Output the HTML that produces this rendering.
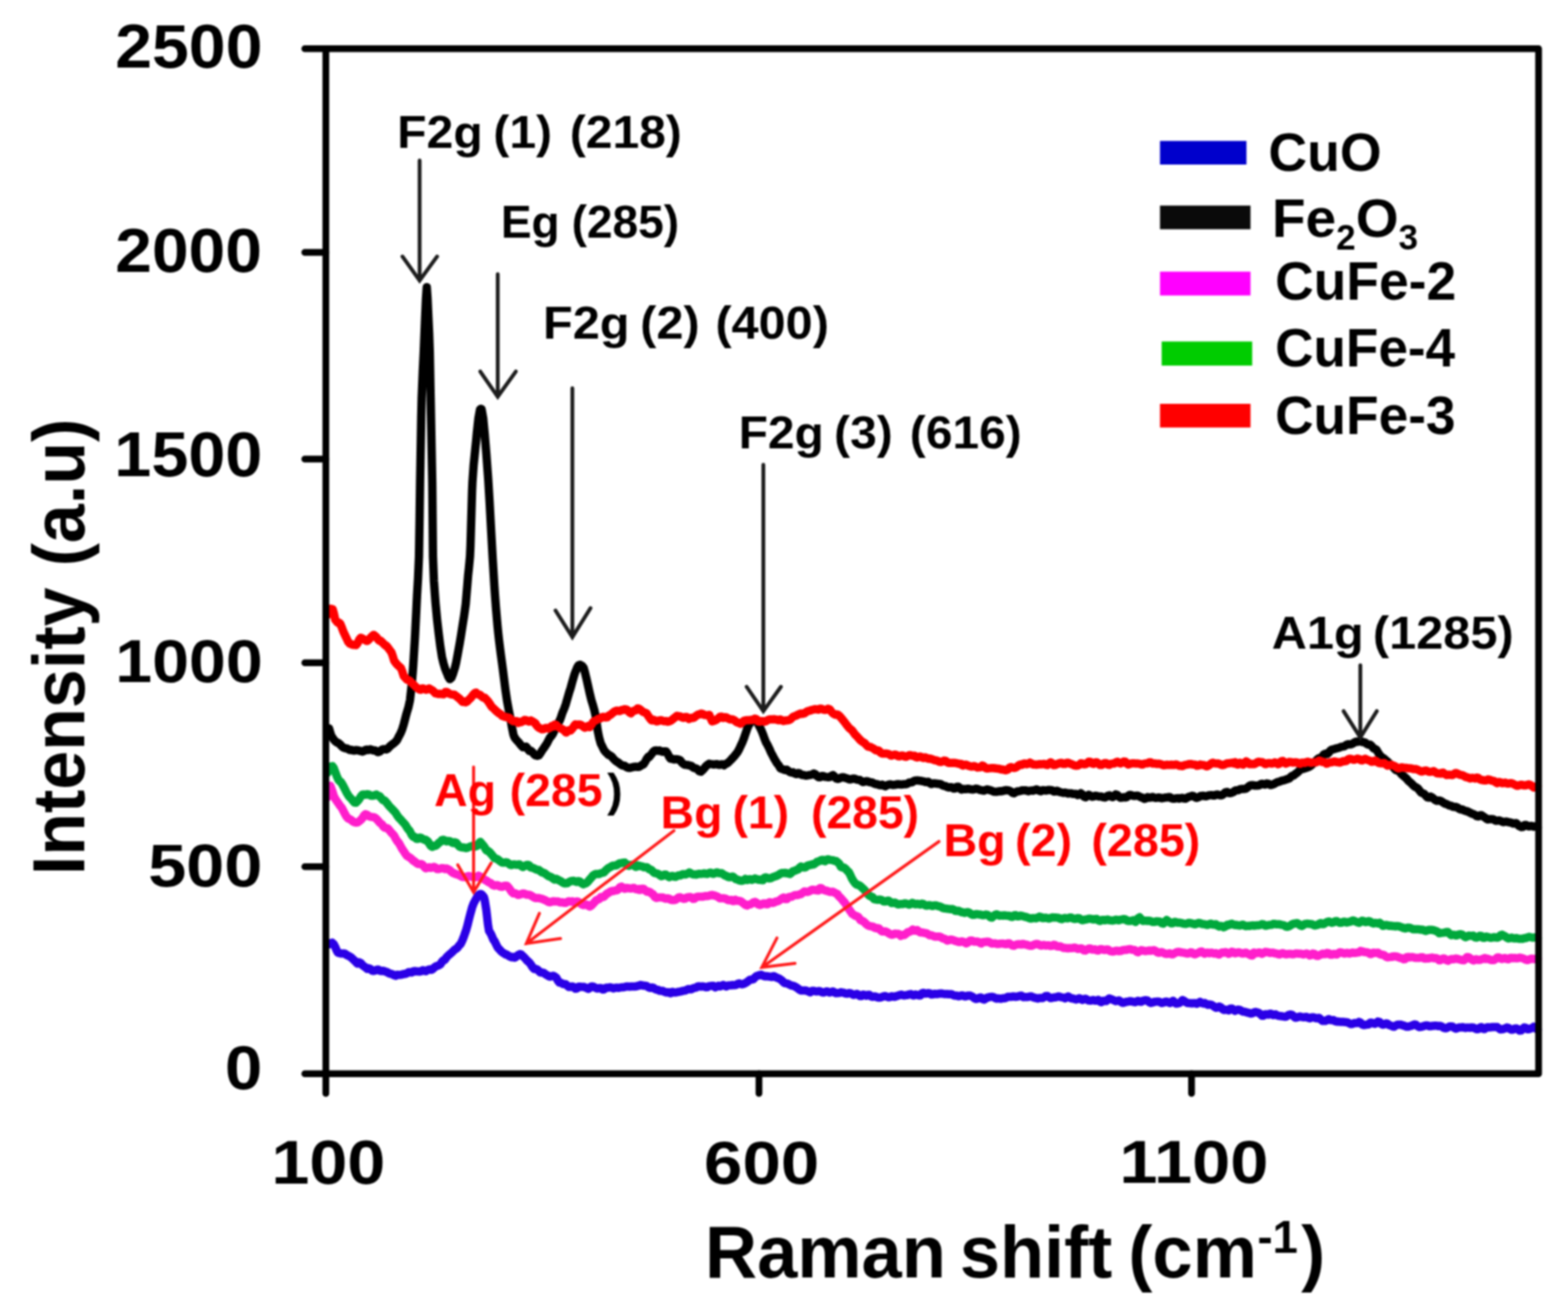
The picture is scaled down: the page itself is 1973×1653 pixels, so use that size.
<!DOCTYPE html>
<html><head><meta charset="utf-8"><title>Raman spectra</title>
<style>
html,body{margin:0;padding:0;background:#fff;}
body{width:1973px;height:1653px;overflow:hidden;}
svg{display:block;}
#wrap{filter:blur(1px);}
text{font-family:'Liberation Sans',sans-serif;font-weight:bold;}
</style></head>
<body>
<div id="wrap">
<svg width="1973" height="1653" viewBox="0 0 1973 1653">
<rect width="1973" height="1653" fill="#fff"/>
<path d="M412.0 1188.5 L414.0 1187.9 L416.0 1186.7 L418.0 1185.9 L418.8 1186.8 L420.0 1187.8 L422.0 1191.7 L424.0 1196.6 L425.3 1198.5 L426.0 1198.7 L428.0 1199.3 L430.0 1199.6 L432.0 1199.4 L434.0 1199.7 L435.0 1200.4 L436.0 1201.3 L438.0 1202.3 L440.0 1203.2 L442.0 1204.6 L444.0 1206.5 L446.0 1208.4 L448.0 1210.3 L449.6 1212.2 L450.0 1211.5 L452.0 1210.5 L454.0 1211.6 L456.0 1214.1 L458.0 1215.7 L460.0 1217.0 L461.8 1218.6 L462.0 1218.9 L464.0 1218.1 L466.0 1218.9 L468.0 1221.0 L470.0 1221.4 L472.0 1220.9 L474.0 1220.0 L476.0 1219.7 L478.0 1221.1 L480.0 1221.6 L482.0 1221.2 L484.0 1221.8 L486.0 1222.6 L486.1 1222.5 L488.0 1223.5 L490.0 1224.6 L492.0 1225.1 L494.0 1225.7 L496.0 1226.9 L498.0 1227.6 L498.3 1226.8 L500.0 1226.2 L502.0 1226.4 L504.0 1226.3 L506.0 1225.8 L508.0 1225.3 L510.0 1225.3 L512.0 1224.4 L514.0 1223.1 L516.0 1223.0 L518.0 1223.4 L518.5 1223.2 L520.0 1222.0 L522.0 1221.6 L524.0 1222.0 L526.0 1222.0 L528.0 1222.3 L530.0 1221.7 L532.0 1220.5 L534.0 1221.1 L536.0 1221.7 L538.0 1220.3 L540.0 1219.5 L542.0 1219.8 L542.9 1220.0 L544.0 1219.5 L546.0 1217.6 L548.0 1215.9 L550.0 1215.1 L552.0 1214.3 L554.0 1213.2 L555.0 1211.9 L556.0 1209.9 L558.0 1207.9 L559.1 1207.8 L560.0 1207.0 L562.0 1204.1 L564.0 1202.0 L566.0 1200.4 L568.0 1198.6 L568.1 1198.6 L570.0 1196.7 L572.0 1194.8 L574.0 1193.6 L576.0 1191.8 L578.0 1189.0 L579.0 1188.2 L580.0 1186.9 L582.0 1182.5 L584.0 1177.3 L586.0 1171.6 L586.3 1170.9 L588.0 1164.9 L590.0 1156.8 L592.0 1149.0 L593.5 1143.7 L594.0 1141.6 L596.0 1136.4 L598.0 1132.6 L600.0 1129.2 L602.0 1126.2 L604.0 1124.7 L605.3 1124.7 L606.0 1125.2 L608.0 1127.3 L609.0 1128.9 L610.0 1132.7 L611.7 1143.4 L612.0 1145.4 L614.0 1163.0 L615.3 1171.0 L616.0 1172.0 L618.0 1175.4 L620.0 1180.1 L620.7 1182.0 L622.0 1183.5 L624.0 1187.4 L626.0 1191.6 L627.1 1193.0 L628.0 1193.8 L630.0 1196.1 L632.0 1198.0 L634.0 1199.2 L636.0 1200.5 L636.2 1200.3 L638.0 1201.1 L640.0 1202.4 L642.0 1203.6 L644.0 1204.3 L645.2 1203.8 L646.0 1204.4 L648.0 1204.7 L650.0 1203.1 L652.0 1201.4 L654.0 1200.8 L654.3 1200.4 L656.0 1200.9 L658.0 1202.9 L660.0 1204.8 L662.0 1207.0 L663.4 1208.8 L664.0 1209.0 L666.0 1210.8 L668.0 1213.4 L670.0 1216.6 L672.0 1219.0 L672.4 1218.6 L674.0 1218.8 L676.0 1219.6 L678.0 1221.5 L680.0 1223.3 L682.0 1223.5 L684.0 1223.9 L686.0 1225.3 L688.0 1226.6 L690.0 1227.8 L692.0 1228.6 L694.0 1228.0 L696.0 1227.5 L698.0 1228.5 L699.7 1229.7 L700.0 1230.0 L702.0 1233.6 L704.0 1236.1 L706.0 1236.4 L708.0 1237.7 L710.0 1238.0 L712.0 1238.3 L714.0 1240.2 L716.0 1241.6 L718.0 1241.5 L720.0 1240.9 L722.0 1241.8 L724.0 1243.8 L726.0 1243.3 L728.0 1241.2 L730.0 1241.3 L732.0 1241.6 L734.0 1241.4 L736.0 1242.0 L738.0 1242.9 L740.0 1244.0 L742.0 1243.0 L744.0 1240.9 L746.0 1241.0 L748.0 1241.9 L750.0 1243.1 L752.0 1243.6 L754.0 1242.9 L756.0 1242.9 L758.0 1244.7 L760.0 1244.8 L762.0 1242.9 L764.0 1242.4 L766.0 1242.4 L768.0 1242.0 L770.0 1242.5 L772.0 1243.4 L774.0 1242.6 L776.0 1242.4 L778.0 1242.8 L780.0 1242.4 L782.0 1242.1 L784.0 1242.0 L786.0 1241.6 L788.0 1241.1 L790.0 1241.1 L792.0 1241.2 L794.0 1241.0 L796.0 1240.9 L798.0 1240.9 L800.0 1240.9 L802.0 1240.4 L804.0 1239.8 L805.4 1239.5 L806.0 1239.1 L808.0 1239.4 L810.0 1240.1 L812.0 1240.0 L814.0 1240.6 L816.0 1242.1 L818.0 1242.8 L820.0 1242.3 L822.0 1242.4 L824.0 1244.2 L826.0 1245.0 L828.0 1245.2 L830.0 1246.3 L832.0 1246.5 L834.0 1246.6 L836.0 1247.7 L838.0 1248.5 L840.0 1248.2 L842.0 1248.5 L843.5 1249.6 L844.0 1248.6 L846.0 1247.7 L848.0 1248.5 L850.0 1248.6 L852.0 1248.2 L854.0 1247.7 L856.0 1247.4 L858.0 1246.9 L860.0 1246.4 L862.0 1246.1 L864.0 1245.2 L866.0 1244.3 L868.0 1244.5 L870.0 1244.4 L872.0 1243.3 L874.0 1242.7 L876.0 1242.3 L878.0 1241.0 L880.0 1240.8 L882.0 1241.2 L884.0 1240.8 L886.0 1241.2 L888.0 1241.9 L890.0 1241.8 L892.0 1240.7 L894.0 1240.4 L896.0 1240.1 L898.0 1240.3 L900.0 1242.1 L902.0 1241.1 L904.0 1240.1 L906.0 1240.9 L908.0 1240.0 L910.0 1239.1 L912.0 1240.3 L914.0 1240.9 L916.0 1239.8 L918.0 1239.6 L920.0 1239.6 L922.0 1239.1 L924.0 1239.4 L926.0 1239.1 L928.0 1237.8 L930.0 1237.1 L930.7 1237.4 L932.0 1237.9 L934.0 1238.2 L936.0 1237.7 L938.0 1236.6 L940.0 1235.4 L942.0 1233.8 L944.0 1232.4 L946.0 1232.3 L948.0 1231.7 L950.0 1229.5 L952.0 1227.9 L954.0 1227.2 L956.0 1226.6 L958.0 1226.3 L958.6 1226.7 L960.0 1227.4 L962.0 1228.2 L964.0 1228.0 L966.0 1228.2 L968.0 1228.6 L970.0 1228.8 L971.2 1229.0 L972.0 1228.2 L974.0 1228.1 L976.0 1229.2 L978.0 1230.1 L980.0 1230.9 L982.0 1232.0 L984.0 1233.6 L986.0 1235.8 L988.0 1236.9 L990.0 1237.1 L992.0 1237.9 L994.0 1239.0 L996.0 1239.8 L998.0 1240.1 L1000.0 1240.9 L1002.0 1242.1 L1004.0 1243.4 L1006.0 1245.1 L1008.0 1246.1 L1010.0 1246.1 L1012.0 1245.9 L1014.0 1245.9 L1016.0 1246.9 L1018.0 1247.6 L1019.4 1248.3 L1020.0 1247.9 L1022.0 1246.4 L1024.0 1246.4 L1026.0 1247.1 L1028.0 1247.2 L1030.0 1246.8 L1032.0 1247.0 L1034.0 1248.1 L1036.0 1248.6 L1038.0 1248.0 L1040.0 1247.2 L1042.0 1247.7 L1044.0 1248.6 L1046.0 1247.9 L1048.0 1247.2 L1050.0 1248.5 L1052.0 1249.4 L1054.0 1249.2 L1056.0 1249.0 L1057.4 1248.7 L1058.0 1248.3 L1060.0 1248.6 L1062.0 1249.0 L1064.0 1249.8 L1066.0 1250.1 L1068.0 1249.3 L1070.0 1249.4 L1072.0 1250.5 L1074.0 1251.5 L1076.0 1251.1 L1078.0 1250.3 L1080.0 1251.3 L1082.0 1253.0 L1084.0 1252.9 L1086.0 1251.2 L1088.0 1251.6 L1090.0 1252.7 L1092.0 1251.6 L1094.0 1251.6 L1096.0 1253.4 L1098.0 1254.0 L1100.0 1253.5 L1102.0 1253.7 L1104.0 1254.6 L1106.0 1255.0 L1108.0 1254.8 L1110.0 1254.1 L1112.0 1253.2 L1114.0 1253.1 L1116.0 1253.9 L1118.0 1254.6 L1120.0 1254.1 L1122.0 1253.2 L1124.0 1253.8 L1126.0 1254.0 L1128.0 1253.1 L1130.0 1252.5 L1132.0 1251.8 L1134.0 1251.2 L1136.0 1252.0 L1138.0 1252.2 L1140.0 1251.9 L1142.0 1251.7 L1144.0 1250.9 L1146.0 1250.6 L1148.0 1251.8 L1150.0 1252.3 L1152.0 1251.1 L1154.0 1251.4 L1156.0 1252.3 L1158.0 1252.2 L1158.7 1251.7 L1160.0 1249.7 L1162.0 1248.9 L1164.0 1249.9 L1166.0 1249.8 L1168.0 1249.3 L1170.0 1249.7 L1172.0 1251.0 L1174.0 1251.0 L1176.0 1250.2 L1178.0 1250.5 L1180.0 1250.4 L1182.0 1249.9 L1184.0 1249.8 L1186.0 1250.0 L1188.0 1250.5 L1190.0 1250.5 L1192.0 1250.5 L1194.0 1250.8 L1196.0 1250.6 L1198.0 1251.0 L1200.0 1252.1 L1202.0 1252.5 L1204.0 1252.5 L1206.0 1253.2 L1208.0 1253.0 L1210.0 1252.2 L1212.0 1252.5 L1214.0 1253.4 L1216.0 1253.3 L1218.0 1252.4 L1220.0 1252.4 L1222.0 1253.0 L1224.0 1254.1 L1226.0 1255.8 L1228.0 1256.7 L1230.0 1256.3 L1232.0 1255.4 L1234.0 1254.8 L1234.8 1255.2 L1236.0 1256.7 L1238.0 1257.5 L1240.0 1256.5 L1242.0 1255.1 L1244.0 1254.6 L1246.0 1254.1 L1248.0 1253.9 L1250.0 1254.3 L1252.0 1255.5 L1254.0 1256.2 L1256.0 1255.9 L1258.0 1256.3 L1260.0 1256.4 L1262.0 1255.7 L1264.0 1255.9 L1266.0 1255.2 L1268.0 1254.1 L1270.0 1254.0 L1272.0 1254.0 L1274.0 1253.6 L1276.0 1253.6 L1278.0 1254.0 L1280.0 1253.8 L1282.0 1253.2 L1284.0 1252.7 L1285.4 1252.5 L1286.0 1253.5 L1288.0 1254.4 L1290.0 1254.2 L1292.0 1254.3 L1294.0 1254.1 L1296.0 1253.4 L1298.0 1253.5 L1300.0 1254.6 L1302.0 1255.1 L1304.0 1255.7 L1306.0 1256.2 L1308.0 1255.4 L1310.0 1255.4 L1312.0 1255.5 L1314.0 1254.3 L1316.0 1253.0 L1318.0 1253.1 L1320.0 1254.5 L1322.0 1255.6 L1324.0 1255.3 L1326.0 1254.7 L1328.0 1254.7 L1330.0 1254.2 L1332.0 1253.4 L1334.0 1254.2 L1336.0 1254.6 L1338.0 1254.9 L1340.0 1255.9 L1342.0 1254.7 L1344.0 1253.6 L1346.0 1254.8 L1348.0 1256.0 L1350.0 1256.1 L1352.0 1256.7 L1354.0 1257.4 L1356.0 1256.7 L1358.0 1255.8 L1360.0 1256.8 L1362.0 1257.9 L1364.0 1256.8 L1366.0 1256.4 L1368.0 1257.7 L1370.0 1258.6 L1372.0 1258.8 L1374.0 1258.4 L1376.0 1258.0 L1378.0 1258.8 L1380.0 1258.5 L1382.0 1257.9 L1384.0 1260.0 L1386.0 1260.7 L1388.0 1258.9 L1390.0 1259.0 L1392.0 1259.3 L1394.0 1257.3 L1396.0 1256.0 L1398.0 1256.8 L1400.0 1257.7 L1402.0 1258.5 L1404.0 1259.4 L1406.0 1259.1 L1408.0 1258.5 L1410.0 1259.9 L1412.0 1261.5 L1414.0 1261.5 L1416.0 1260.7 L1418.0 1260.2 L1420.0 1259.9 L1422.0 1259.4 L1424.0 1259.7 L1426.0 1260.3 L1428.0 1260.7 L1430.0 1260.0 L1432.0 1259.0 L1434.0 1259.9 L1436.0 1260.3 L1438.0 1259.1 L1440.0 1258.5 L1442.0 1258.3 L1444.0 1258.7 L1446.0 1260.6 L1448.0 1261.7 L1450.0 1261.2 L1452.0 1260.5 L1454.0 1260.1 L1456.0 1259.9 L1458.0 1259.9 L1460.0 1261.0 L1462.0 1261.8 L1464.0 1261.2 L1466.0 1260.2 L1468.0 1260.0 L1470.0 1260.9 L1472.0 1261.8 L1474.0 1260.5 L1476.0 1259.1 L1478.0 1260.8 L1480.0 1262.6 L1482.0 1262.3 L1484.0 1261.7 L1486.0 1260.3 L1487.6 1258.4 L1488.0 1258.0 L1490.0 1259.1 L1492.0 1260.6 L1494.0 1261.7 L1496.0 1261.9 L1498.0 1262.0 L1500.0 1262.3 L1502.0 1261.9 L1504.0 1262.0 L1506.0 1262.7 L1508.0 1261.5 L1510.0 1260.4 L1512.0 1261.7 L1514.0 1262.4 L1516.0 1261.8 L1518.0 1263.1 L1520.0 1264.1 L1522.0 1263.6 L1524.0 1263.9 L1526.0 1265.0 L1528.0 1266.4 L1530.0 1267.8 L1532.0 1267.4 L1534.0 1266.2 L1536.0 1267.0 L1538.0 1269.3 L1540.0 1270.5 L1542.0 1270.1 L1544.0 1270.4 L1546.0 1271.1 L1546.4 1270.2 L1548.0 1269.0 L1550.0 1268.7 L1552.0 1270.3 L1554.0 1271.6 L1556.0 1270.6 L1558.0 1270.1 L1560.0 1270.4 L1562.0 1271.6 L1564.0 1272.6 L1566.0 1272.7 L1568.0 1273.3 L1570.0 1273.8 L1572.0 1274.3 L1574.0 1275.1 L1576.0 1274.7 L1578.0 1273.6 L1580.0 1273.0 L1582.0 1273.5 L1584.0 1274.4 L1586.0 1275.8 L1588.0 1277.8 L1590.0 1277.7 L1592.0 1275.9 L1594.0 1276.0 L1596.0 1276.4 L1598.0 1275.2 L1600.0 1275.7 L1602.0 1276.9 L1604.0 1276.3 L1605.2 1276.1 L1606.0 1276.9 L1608.0 1277.7 L1610.0 1278.1 L1612.0 1278.3 L1614.0 1278.6 L1616.0 1278.9 L1618.0 1279.0 L1620.0 1277.8 L1622.0 1276.6 L1624.0 1276.3 L1626.0 1276.9 L1628.0 1278.7 L1630.0 1280.2 L1632.0 1280.0 L1634.0 1279.1 L1636.0 1278.8 L1638.0 1279.3 L1640.0 1279.7 L1642.0 1279.5 L1644.0 1279.3 L1646.0 1280.5 L1648.0 1281.0 L1650.0 1280.0 L1652.0 1279.7 L1654.0 1280.1 L1656.0 1281.0 L1658.0 1280.8 L1660.0 1280.5 L1662.0 1282.6 L1664.0 1284.3 L1666.0 1284.3 L1668.0 1284.2 L1670.0 1283.0 L1672.0 1282.1 L1674.0 1283.2 L1676.0 1283.4 L1678.0 1283.3 L1680.0 1284.7 L1682.0 1285.2 L1684.0 1285.1 L1686.0 1285.4 L1688.0 1285.5 L1690.0 1285.6 L1692.0 1285.7 L1694.0 1285.9 L1696.0 1286.4 L1698.0 1287.5 L1700.0 1288.3 L1702.0 1288.0 L1704.0 1287.1 L1706.0 1287.1 L1708.0 1287.1 L1710.0 1285.6 L1712.0 1286.5 L1714.0 1288.8 L1716.0 1289.5 L1718.0 1289.3 L1720.0 1288.9 L1722.0 1288.7 L1722.8 1287.8 L1724.0 1286.6 L1726.0 1286.6 L1728.0 1287.5 L1730.0 1288.0 L1732.0 1286.8 L1734.0 1285.1 L1736.0 1285.8 L1738.0 1288.0 L1740.0 1289.0 L1742.0 1288.6 L1744.0 1287.4 L1746.0 1287.9 L1748.0 1289.7 L1750.0 1290.1 L1752.0 1291.1 L1754.0 1291.6 L1756.0 1290.2 L1758.0 1289.3 L1760.0 1289.0 L1762.0 1288.9 L1764.0 1289.5 L1766.0 1290.1 L1768.0 1290.7 L1770.0 1291.6 L1772.0 1291.6 L1774.0 1290.8 L1776.0 1290.4 L1778.0 1289.5 L1780.0 1288.8 L1781.6 1288.9 L1782.0 1289.6 L1784.0 1291.1 L1786.0 1292.1 L1788.0 1291.9 L1790.0 1291.2 L1792.0 1290.6 L1794.0 1289.9 L1796.0 1289.9 L1798.0 1291.0 L1800.0 1291.0 L1802.0 1290.6 L1804.0 1290.6 L1806.0 1290.2 L1808.0 1290.4 L1810.0 1290.9 L1812.0 1290.6 L1814.0 1291.2 L1816.0 1292.6 L1818.0 1293.5 L1820.0 1293.5 L1822.0 1292.4 L1824.0 1291.3 L1826.0 1291.2 L1828.0 1291.7 L1830.0 1293.1 L1832.0 1294.1 L1834.0 1293.4 L1836.0 1292.4 L1838.0 1292.5 L1840.0 1292.5 L1840.4 1292.0 L1842.0 1292.7 L1844.0 1293.2 L1846.0 1292.7 L1848.0 1292.8 L1850.0 1292.9 L1852.0 1292.4 L1854.0 1292.7 L1856.0 1293.8 L1858.0 1294.7 L1860.0 1294.6 L1862.0 1292.7 L1864.0 1292.1 L1866.0 1294.1 L1868.0 1294.6 L1870.0 1292.9 L1872.0 1292.3 L1874.0 1292.5 L1876.0 1292.3 L1878.0 1292.0 L1880.0 1291.9 L1882.0 1292.0 L1884.0 1292.1 L1886.0 1293.6 L1888.0 1295.1 L1890.0 1294.9 L1892.0 1294.4 L1894.0 1293.6 L1896.0 1292.6 L1898.0 1293.1 L1900.0 1294.5 L1902.0 1295.4 L1904.0 1295.2 L1906.0 1293.9 L1908.0 1293.7 L1910.0 1295.0 L1912.0 1296.4 L1914.0 1296.3 L1916.0 1294.2 L1918.0 1292.5 L1920.0 1293.1 L1922.0 1294.8 L1924.0 1294.7 L1926.0 1293.9 L1928.0 1293.1 L1930.0 1291.6 L1932.0 1292.4 L1934.0 1294.7 L1935.0 1295.3" fill="none" stroke="#2a00e6" stroke-width="10.5" stroke-linejoin="round" stroke-linecap="round"/>
<path d="M412.0 1003.0 L414.0 992.7 L415.5 988.5 L416.0 989.2 L418.0 994.9 L420.0 1001.3 L421.0 1003.3 L422.0 1005.1 L424.0 1008.1 L426.0 1010.8 L428.0 1013.8 L429.0 1015.0 L430.0 1016.2 L432.0 1019.9 L434.0 1023.8 L436.0 1027.3 L438.0 1029.6 L438.7 1029.8 L440.0 1030.4 L442.0 1031.7 L444.0 1033.3 L446.0 1034.4 L448.0 1034.8 L450.0 1034.6 L452.0 1033.1 L454.0 1031.5 L456.0 1029.2 L458.0 1026.0 L460.0 1024.2 L462.0 1025.1 L464.0 1026.7 L466.0 1027.4 L468.0 1027.7 L470.0 1027.9 L472.0 1028.8 L474.0 1030.5 L476.0 1032.8 L478.0 1035.1 L480.0 1036.6 L481.0 1037.5 L482.0 1039.4 L484.0 1041.3 L486.0 1041.5 L488.0 1042.2 L490.0 1044.5 L492.0 1047.0 L493.0 1048.2 L494.0 1049.0 L496.0 1051.4 L498.0 1055.2 L500.0 1058.4 L502.0 1060.6 L504.0 1064.2 L506.0 1067.9 L508.0 1070.7 L510.0 1073.9 L512.0 1076.6 L514.0 1077.9 L516.0 1079.0 L518.0 1080.7 L520.0 1082.8 L520.3 1082.9 L522.0 1083.9 L524.0 1085.6 L526.0 1086.9 L528.0 1087.1 L530.0 1086.9 L532.0 1088.2 L534.0 1090.7 L535.5 1092.1 L536.0 1092.3 L538.0 1091.6 L540.0 1091.1 L542.0 1091.7 L544.0 1091.4 L546.0 1090.5 L548.0 1091.5 L550.0 1093.3 L552.0 1093.3 L554.0 1092.7 L556.0 1092.1 L558.0 1092.3 L560.0 1093.3 L560.8 1093.0 L562.0 1092.6 L564.0 1093.5 L566.0 1094.7 L568.0 1096.7 L570.0 1098.1 L571.0 1098.4 L572.0 1099.0 L574.0 1099.7 L576.0 1100.3 L578.0 1101.1 L580.0 1102.2 L582.0 1103.2 L584.0 1103.4 L586.0 1103.2 L586.2 1103.0 L588.0 1102.5 L590.0 1102.1 L592.0 1102.6 L594.0 1103.1 L596.0 1103.1 L598.0 1103.3 L600.0 1103.5 L601.4 1102.2 L602.0 1101.6 L604.0 1102.7 L606.0 1103.8 L608.0 1105.4 L610.0 1107.0 L611.5 1107.5 L612.0 1107.6 L614.0 1109.4 L616.0 1110.4 L618.0 1111.3 L620.0 1113.4 L622.0 1114.2 L624.0 1113.7 L626.0 1113.6 L626.8 1113.9 L628.0 1114.6 L630.0 1115.5 L632.0 1115.5 L634.0 1114.5 L636.0 1114.3 L636.9 1114.2 L638.0 1114.4 L640.0 1116.5 L642.0 1119.3 L644.0 1122.2 L646.0 1123.8 L647.0 1123.5 L648.0 1123.6 L650.0 1124.7 L652.0 1125.7 L654.0 1125.5 L656.0 1124.7 L658.0 1124.0 L660.0 1124.2 L662.0 1125.2 L662.2 1125.4 L664.0 1125.4 L666.0 1125.6 L668.0 1126.5 L670.0 1127.8 L672.0 1129.0 L674.0 1129.7 L676.0 1129.7 L678.0 1129.7 L680.0 1130.3 L682.0 1130.7 L682.5 1130.8 L684.0 1131.6 L686.0 1132.4 L688.0 1133.5 L690.0 1134.6 L692.0 1135.0 L694.0 1134.4 L696.0 1133.7 L698.0 1134.1 L700.0 1134.1 L702.0 1133.9 L704.0 1135.0 L706.0 1135.2 L708.0 1135.1 L710.0 1135.8 L712.0 1135.7 L714.0 1134.5 L716.0 1133.8 L718.0 1134.2 L720.0 1134.3 L720.3 1134.0 L722.0 1135.0 L724.0 1134.7 L726.0 1133.9 L728.0 1134.7 L730.0 1136.1 L732.0 1137.9 L734.0 1138.6 L736.0 1137.7 L738.0 1137.9 L740.0 1138.8 L740.6 1139.7 L742.0 1140.4 L744.0 1139.2 L746.0 1137.2 L748.0 1135.1 L750.0 1132.8 L752.0 1131.8 L754.0 1130.9 L755.8 1129.0 L756.0 1128.6 L758.0 1128.5 L760.0 1128.1 L762.0 1125.8 L764.0 1124.0 L766.0 1123.1 L768.0 1121.6 L770.0 1120.8 L771.0 1121.1 L772.0 1120.8 L774.0 1120.2 L776.0 1120.1 L778.0 1118.8 L780.0 1116.2 L782.0 1115.4 L784.0 1116.7 L786.0 1118.0 L788.0 1117.6 L788.2 1116.9 L790.0 1117.1 L792.0 1117.6 L794.0 1117.8 L796.0 1117.1 L798.0 1117.1 L800.0 1118.6 L802.0 1118.7 L804.0 1118.3 L804.4 1119.5 L806.0 1119.4 L808.0 1117.9 L810.0 1118.2 L812.0 1120.3 L814.0 1121.7 L816.0 1121.5 L818.0 1122.3 L820.0 1124.3 L821.7 1124.8 L822.0 1125.6 L824.0 1128.5 L826.0 1129.6 L828.0 1129.0 L830.0 1128.9 L832.0 1129.1 L834.0 1129.0 L836.0 1130.0 L838.0 1130.6 L840.0 1130.0 L842.0 1130.5 L844.0 1131.9 L846.0 1132.3 L848.0 1132.3 L850.0 1131.9 L852.0 1130.5 L854.0 1129.0 L856.0 1128.8 L858.0 1129.9 L860.0 1130.7 L862.0 1130.6 L862.2 1130.1 L864.0 1129.1 L866.0 1128.7 L868.0 1128.4 L870.0 1129.0 L872.0 1130.8 L874.0 1130.5 L876.0 1128.6 L878.0 1128.1 L880.0 1128.1 L882.0 1127.9 L884.0 1128.0 L886.0 1127.6 L888.0 1127.2 L890.0 1127.2 L892.0 1126.9 L894.0 1126.2 L896.0 1125.8 L898.0 1126.3 L900.0 1126.9 L902.0 1127.6 L904.0 1128.8 L906.0 1130.1 L908.0 1130.1 L910.0 1129.9 L912.0 1130.3 L914.0 1131.0 L916.0 1132.3 L918.0 1132.4 L920.0 1132.1 L922.0 1133.5 L924.0 1133.6 L925.4 1132.0 L926.0 1132.4 L928.0 1133.3 L930.0 1133.2 L932.0 1133.8 L934.0 1135.3 L936.0 1136.8 L938.0 1138.4 L940.0 1139.2 L940.6 1138.4 L942.0 1137.9 L944.0 1137.7 L946.0 1136.8 L948.0 1135.3 L950.0 1134.6 L952.0 1135.7 L954.0 1137.7 L956.0 1138.5 L958.0 1137.9 L960.0 1136.7 L962.0 1136.4 L964.0 1137.6 L965.9 1137.5 L966.0 1136.1 L968.0 1135.1 L970.0 1135.2 L972.0 1135.9 L974.0 1135.4 L976.0 1134.2 L978.0 1133.9 L980.0 1133.1 L982.0 1131.6 L984.0 1130.1 L986.0 1129.0 L986.2 1129.4 L988.0 1131.0 L990.0 1131.1 L992.0 1128.9 L994.0 1128.3 L996.0 1128.1 L998.0 1127.0 L1000.0 1126.2 L1002.0 1125.9 L1004.0 1125.9 L1006.0 1125.1 L1006.5 1125.0 L1008.0 1124.8 L1010.0 1123.1 L1012.0 1121.5 L1014.0 1121.7 L1016.0 1122.1 L1018.0 1121.4 L1020.0 1120.2 L1022.0 1119.2 L1024.0 1119.4 L1026.0 1119.7 L1028.0 1120.0 L1029.8 1120.3 L1030.0 1119.0 L1032.0 1117.2 L1034.0 1117.7 L1036.0 1119.4 L1038.0 1120.1 L1040.0 1120.5 L1042.0 1121.2 L1044.0 1122.0 L1046.0 1122.1 L1048.0 1121.8 L1050.0 1122.9 L1052.0 1124.0 L1054.0 1124.9 L1054.1 1125.8 L1056.0 1127.9 L1058.0 1129.8 L1060.0 1132.1 L1062.0 1134.6 L1062.2 1134.5 L1064.0 1137.1 L1066.0 1140.3 L1068.0 1143.3 L1070.0 1146.2 L1072.0 1149.1 L1072.4 1149.6 L1074.0 1150.6 L1076.0 1152.1 L1078.0 1152.5 L1080.0 1153.6 L1082.0 1156.2 L1082.5 1157.4 L1084.0 1158.1 L1086.0 1158.7 L1088.0 1160.4 L1090.0 1162.6 L1092.0 1164.1 L1094.0 1164.9 L1096.0 1165.3 L1098.0 1165.7 L1098.7 1165.9 L1100.0 1166.9 L1102.0 1167.7 L1104.0 1167.5 L1106.0 1168.1 L1108.0 1170.3 L1110.0 1171.8 L1112.0 1171.8 L1114.0 1171.7 L1116.0 1172.5 L1118.0 1173.8 L1120.0 1175.1 L1122.0 1175.9 L1124.0 1175.5 L1126.0 1174.6 L1128.0 1174.7 L1130.0 1174.7 L1132.0 1175.5 L1133.4 1177.3 L1134.0 1177.0 L1136.0 1176.0 L1138.0 1176.2 L1140.0 1174.8 L1142.0 1172.9 L1144.0 1172.3 L1146.0 1171.5 L1148.0 1169.9 L1148.6 1169.4 L1150.0 1170.7 L1152.0 1170.7 L1154.0 1170.1 L1156.0 1171.8 L1158.0 1173.0 L1160.0 1173.0 L1162.0 1173.4 L1164.0 1173.8 L1166.0 1174.1 L1168.0 1175.5 L1170.0 1176.6 L1172.0 1176.5 L1174.0 1177.3 L1176.0 1178.2 L1178.0 1178.2 L1180.0 1178.2 L1182.0 1178.3 L1184.0 1179.0 L1186.0 1180.3 L1188.0 1180.8 L1190.0 1181.8 L1192.0 1183.3 L1194.0 1182.7 L1196.0 1182.0 L1198.0 1182.2 L1200.0 1182.9 L1202.0 1183.8 L1204.0 1184.1 L1206.0 1185.0 L1208.0 1185.0 L1210.0 1184.3 L1212.0 1184.6 L1214.0 1185.7 L1216.0 1186.7 L1218.0 1185.6 L1220.0 1183.7 L1222.0 1183.2 L1224.0 1183.7 L1226.0 1184.6 L1228.0 1184.6 L1230.0 1184.6 L1232.0 1185.2 L1234.0 1186.6 L1234.8 1186.9 L1236.0 1185.5 L1238.0 1185.1 L1240.0 1185.1 L1242.0 1184.6 L1244.0 1184.8 L1246.0 1185.9 L1248.0 1187.1 L1250.0 1186.9 L1252.0 1186.7 L1254.0 1187.5 L1256.0 1187.5 L1258.0 1187.2 L1260.0 1187.1 L1262.0 1186.9 L1264.0 1187.6 L1266.0 1187.8 L1268.0 1186.7 L1270.0 1186.8 L1272.0 1188.2 L1274.0 1189.4 L1276.0 1189.8 L1278.0 1188.6 L1280.0 1187.9 L1282.0 1187.8 L1284.0 1188.1 L1285.4 1188.3 L1286.0 1187.5 L1288.0 1187.6 L1290.0 1188.1 L1292.0 1188.5 L1294.0 1189.2 L1296.0 1189.8 L1298.0 1189.7 L1300.0 1189.0 L1302.0 1188.1 L1304.0 1187.5 L1306.0 1187.8 L1308.0 1188.8 L1310.0 1189.6 L1312.0 1189.0 L1314.0 1188.8 L1316.0 1189.6 L1318.0 1189.3 L1320.0 1189.2 L1322.0 1190.1 L1324.0 1189.9 L1326.0 1188.5 L1328.0 1189.1 L1330.0 1190.6 L1332.0 1190.7 L1334.0 1190.4 L1336.0 1191.4 L1338.0 1192.5 L1340.0 1192.4 L1342.0 1192.8 L1344.0 1193.1 L1346.0 1192.7 L1348.0 1192.8 L1350.0 1192.5 L1352.0 1192.1 L1354.0 1192.6 L1356.0 1193.7 L1358.0 1193.6 L1360.0 1192.9 L1362.0 1193.7 L1364.0 1195.6 L1366.0 1195.7 L1368.0 1194.4 L1370.0 1193.3 L1372.0 1193.2 L1374.0 1194.5 L1376.0 1194.6 L1378.0 1194.3 L1380.0 1195.6 L1382.0 1195.7 L1384.0 1194.3 L1386.0 1194.0 L1388.0 1194.6 L1390.0 1195.1 L1392.0 1194.5 L1394.0 1194.4 L1396.0 1196.0 L1398.0 1196.7 L1400.0 1197.1 L1402.0 1196.9 L1404.0 1195.9 L1406.0 1196.0 L1408.0 1196.6 L1410.0 1196.4 L1412.0 1195.5 L1414.0 1195.1 L1416.0 1195.1 L1418.0 1194.8 L1420.0 1194.1 L1422.0 1193.9 L1424.0 1194.7 L1426.0 1194.9 L1428.0 1195.1 L1428.8 1195.9 L1430.0 1197.1 L1432.0 1197.9 L1434.0 1196.6 L1436.0 1195.3 L1438.0 1195.7 L1440.0 1196.3 L1442.0 1196.4 L1444.0 1196.1 L1446.0 1195.8 L1448.0 1196.1 L1450.0 1195.7 L1452.0 1195.3 L1454.0 1196.2 L1456.0 1197.8 L1458.0 1198.6 L1460.0 1198.0 L1462.0 1197.8 L1464.0 1198.7 L1466.0 1199.6 L1468.0 1200.1 L1470.0 1199.6 L1472.0 1199.3 L1474.0 1200.4 L1476.0 1200.4 L1478.0 1199.1 L1480.0 1198.1 L1482.0 1197.5 L1484.0 1197.6 L1486.0 1198.0 L1487.6 1198.2 L1488.0 1198.4 L1490.0 1198.6 L1492.0 1199.1 L1494.0 1199.5 L1496.0 1199.2 L1498.0 1198.1 L1500.0 1198.2 L1502.0 1200.1 L1504.0 1200.5 L1506.0 1199.4 L1508.0 1198.6 L1510.0 1197.3 L1512.0 1196.9 L1514.0 1198.7 L1516.0 1199.7 L1518.0 1198.4 L1520.0 1198.5 L1522.0 1199.2 L1524.0 1198.4 L1526.0 1199.0 L1528.0 1199.6 L1530.0 1199.1 L1532.0 1200.2 L1534.0 1200.8 L1536.0 1199.0 L1538.0 1198.2 L1540.0 1198.4 L1542.0 1197.8 L1544.0 1198.3 L1546.0 1199.9 L1548.0 1199.1 L1550.0 1197.3 L1552.0 1197.8 L1554.0 1199.2 L1556.0 1198.9 L1558.0 1197.9 L1560.0 1198.4 L1562.0 1199.3 L1564.0 1199.6 L1566.0 1198.7 L1568.0 1198.4 L1570.0 1199.9 L1572.0 1200.7 L1574.0 1201.8 L1575.8 1202.1 L1576.0 1199.5 L1578.0 1198.3 L1580.0 1199.1 L1582.0 1199.0 L1584.0 1198.2 L1586.0 1198.7 L1588.0 1199.9 L1590.0 1198.9 L1592.0 1197.6 L1594.0 1197.7 L1596.0 1198.1 L1598.0 1198.7 L1600.0 1198.6 L1602.0 1198.5 L1604.0 1199.2 L1606.0 1199.4 L1608.0 1200.3 L1610.0 1200.7 L1612.0 1199.5 L1614.0 1199.0 L1616.0 1199.9 L1618.0 1200.5 L1620.0 1200.2 L1622.0 1199.9 L1624.0 1200.0 L1626.0 1200.4 L1628.0 1200.3 L1630.0 1199.5 L1632.0 1199.4 L1634.0 1199.7 L1636.0 1199.7 L1638.0 1200.2 L1640.0 1200.7 L1642.0 1200.2 L1644.0 1199.5 L1646.0 1200.2 L1648.0 1201.9 L1650.0 1201.4 L1652.0 1199.5 L1654.0 1200.1 L1656.0 1202.3 L1658.0 1202.6 L1660.0 1201.7 L1662.0 1200.9 L1664.0 1199.7 L1666.0 1200.2 L1668.0 1200.3 L1670.0 1198.8 L1672.0 1199.2 L1674.0 1200.9 L1676.0 1201.0 L1678.0 1200.0 L1680.0 1200.4 L1682.0 1200.8 L1684.0 1199.2 L1686.0 1197.9 L1688.0 1198.3 L1690.0 1199.0 L1692.0 1199.6 L1694.0 1198.8 L1696.0 1198.7 L1698.0 1199.6 L1700.0 1198.8 L1702.0 1198.3 L1704.0 1198.8 L1706.0 1198.7 L1708.0 1198.3 L1710.0 1198.1 L1711.0 1197.2 L1712.0 1196.3 L1714.0 1196.8 L1716.0 1197.5 L1718.0 1197.8 L1720.0 1198.0 L1722.0 1198.6 L1724.0 1200.2 L1726.0 1200.0 L1728.0 1198.4 L1730.0 1198.7 L1732.0 1198.7 L1734.0 1198.5 L1736.0 1200.1 L1738.0 1201.0 L1740.0 1201.0 L1742.0 1201.9 L1744.0 1203.6 L1746.0 1204.3 L1748.0 1204.1 L1750.0 1203.9 L1752.0 1203.7 L1752.2 1203.3 L1754.0 1203.1 L1756.0 1203.2 L1758.0 1203.5 L1760.0 1204.4 L1762.0 1205.2 L1764.0 1205.4 L1766.0 1206.7 L1768.0 1206.5 L1770.0 1204.2 L1772.0 1203.8 L1774.0 1204.4 L1776.0 1204.0 L1778.0 1204.0 L1780.0 1204.8 L1782.0 1205.1 L1784.0 1204.9 L1786.0 1205.0 L1788.0 1204.3 L1790.0 1204.2 L1792.0 1205.8 L1794.0 1205.9 L1796.0 1205.4 L1798.0 1205.8 L1800.0 1204.9 L1802.0 1204.6 L1804.0 1205.5 L1806.0 1205.2 L1808.0 1205.6 L1810.0 1207.0 L1811.0 1208.1 L1812.0 1208.0 L1814.0 1206.7 L1816.0 1205.7 L1818.0 1206.2 L1820.0 1207.9 L1822.0 1208.6 L1824.0 1207.3 L1826.0 1206.5 L1828.0 1206.8 L1830.0 1206.3 L1832.0 1205.8 L1834.0 1206.2 L1836.0 1206.9 L1838.0 1207.3 L1840.0 1207.9 L1842.0 1208.1 L1844.0 1206.4 L1846.0 1203.9 L1848.0 1204.1 L1850.0 1205.8 L1852.0 1207.3 L1854.0 1208.2 L1856.0 1207.2 L1858.0 1206.7 L1860.0 1207.6 L1862.0 1207.6 L1864.0 1206.8 L1866.0 1206.2 L1868.0 1205.3 L1869.8 1205.6 L1870.0 1206.4 L1872.0 1206.1 L1874.0 1206.9 L1876.0 1207.7 L1878.0 1207.7 L1880.0 1207.7 L1882.0 1206.4 L1884.0 1204.4 L1886.0 1204.4 L1888.0 1205.9 L1890.0 1206.4 L1892.0 1205.5 L1894.0 1205.2 L1896.0 1206.4 L1898.0 1206.7 L1900.0 1205.2 L1902.0 1204.9 L1904.0 1205.5 L1906.0 1205.0 L1908.0 1205.6 L1910.0 1205.5 L1912.0 1204.7 L1914.0 1205.0 L1916.0 1205.5 L1918.0 1206.3 L1920.0 1207.4 L1922.0 1207.8 L1924.0 1207.1 L1926.0 1206.2 L1928.0 1205.9 L1930.0 1206.6 L1932.0 1206.5 L1934.0 1205.5 L1935.0 1206.1" fill="none" stroke="#ff1ecb" stroke-width="10.5" stroke-linejoin="round" stroke-linecap="round"/>
<path d="M412.0 972.3 L414.0 966.7 L416.0 964.4 L418.0 964.0 L418.4 963.9 L420.0 966.2 L422.0 971.8 L423.0 974.3 L424.0 977.0 L426.0 981.1 L428.0 983.3 L429.0 983.8 L430.0 985.3 L432.0 988.9 L434.0 992.7 L436.0 996.8 L438.0 1000.2 L438.7 1001.3 L440.0 1002.9 L442.0 1004.9 L444.0 1007.2 L446.0 1009.5 L448.0 1009.8 L448.4 1008.7 L450.0 1007.8 L452.0 1005.2 L454.0 1002.0 L456.0 999.7 L458.0 999.4 L460.0 999.8 L462.0 999.1 L464.0 999.4 L466.0 1000.7 L468.0 1001.0 L470.0 1001.0 L472.0 1000.2 L473.5 999.5 L474.0 1000.5 L476.0 1001.0 L478.0 1001.9 L480.0 1004.5 L482.0 1006.6 L483.0 1006.6 L484.0 1007.0 L486.0 1009.2 L488.0 1011.8 L490.0 1014.4 L492.0 1016.4 L493.0 1017.3 L494.0 1018.5 L496.0 1020.5 L498.0 1022.9 L500.0 1026.2 L502.0 1028.9 L504.0 1030.8 L506.0 1033.1 L508.0 1035.3 L510.0 1037.5 L512.0 1040.9 L514.0 1043.7 L515.2 1044.8 L516.0 1046.2 L518.0 1050.3 L520.0 1052.9 L520.3 1052.1 L522.0 1052.9 L524.0 1055.2 L526.0 1055.2 L528.0 1053.7 L530.0 1054.2 L532.0 1055.5 L534.0 1056.3 L535.5 1057.0 L536.0 1056.6 L538.0 1058.1 L540.0 1061.0 L542.0 1064.0 L544.0 1065.3 L544.6 1064.0 L546.0 1063.9 L548.0 1064.1 L550.0 1062.6 L552.0 1060.5 L554.0 1059.2 L555.8 1058.0 L556.0 1056.8 L558.0 1056.4 L560.0 1057.5 L562.0 1058.4 L564.0 1057.9 L566.0 1058.1 L568.0 1059.4 L570.0 1060.6 L571.0 1060.6 L572.0 1059.6 L574.0 1060.1 L576.0 1062.6 L578.0 1064.9 L580.0 1065.8 L582.0 1066.0 L584.0 1066.3 L586.0 1066.6 L586.2 1066.9 L588.0 1066.6 L590.0 1065.6 L592.0 1064.9 L594.0 1064.4 L596.0 1063.8 L597.0 1064.3 L598.0 1065.0 L600.0 1064.2 L602.0 1061.9 L604.0 1059.4 L604.4 1059.2 L606.0 1061.1 L608.0 1063.4 L610.0 1066.1 L611.5 1069.0 L612.0 1069.8 L614.0 1070.5 L616.0 1072.0 L618.0 1074.3 L620.0 1076.6 L621.7 1078.9 L622.0 1079.4 L624.0 1080.0 L626.0 1080.8 L628.0 1082.4 L630.0 1084.0 L632.0 1085.1 L634.0 1085.2 L636.0 1084.8 L638.0 1085.0 L640.0 1086.3 L642.0 1088.0 L644.0 1088.2 L646.0 1087.4 L648.0 1087.5 L650.0 1088.0 L652.0 1087.5 L654.0 1087.6 L656.0 1089.6 L658.0 1090.8 L660.0 1089.6 L662.0 1088.3 L664.0 1087.9 L666.0 1088.7 L666.3 1090.2 L668.0 1091.3 L670.0 1091.6 L672.0 1092.4 L674.0 1093.5 L676.0 1094.1 L678.0 1094.5 L680.0 1096.0 L682.0 1097.5 L682.5 1097.4 L684.0 1098.0 L686.0 1099.0 L688.0 1100.6 L690.0 1102.1 L692.0 1102.7 L694.0 1103.7 L696.0 1105.3 L697.7 1106.5 L698.0 1106.0 L700.0 1105.6 L702.0 1106.7 L704.0 1107.8 L706.0 1108.8 L708.0 1110.3 L710.0 1111.2 L712.0 1111.2 L712.2 1111.0 L714.0 1110.9 L716.0 1109.5 L718.0 1108.7 L720.0 1108.2 L722.0 1108.0 L724.0 1108.8 L725.4 1109.4 L726.0 1108.9 L728.0 1108.4 L730.0 1109.2 L732.0 1111.2 L734.0 1112.3 L734.5 1111.9 L736.0 1111.6 L738.0 1110.8 L740.0 1108.9 L742.0 1106.3 L744.0 1104.2 L745.6 1102.3 L746.0 1101.4 L748.0 1100.2 L750.0 1099.4 L752.0 1099.5 L754.0 1099.4 L756.0 1098.5 L758.0 1098.0 L760.0 1097.4 L760.8 1096.4 L762.0 1095.1 L764.0 1093.2 L766.0 1091.7 L768.0 1090.8 L770.0 1089.5 L772.0 1088.9 L774.0 1088.8 L776.0 1088.3 L778.0 1087.0 L780.0 1085.9 L782.0 1085.7 L784.0 1085.3 L786.0 1085.1 L786.2 1085.4 L788.0 1086.7 L790.0 1088.9 L791.3 1089.2 L792.0 1088.6 L794.0 1088.0 L796.0 1088.3 L798.0 1089.0 L800.0 1090.5 L801.4 1090.2 L802.0 1088.5 L804.0 1089.0 L806.0 1089.6 L808.0 1089.9 L810.0 1091.0 L812.0 1091.1 L814.0 1091.1 L816.0 1092.5 L816.6 1093.4 L818.0 1093.8 L820.0 1094.8 L822.0 1097.0 L824.0 1098.4 L826.0 1098.6 L828.0 1099.4 L829.8 1100.2 L830.0 1100.9 L832.0 1102.2 L834.0 1101.6 L836.0 1100.2 L838.0 1100.3 L840.0 1102.1 L842.0 1103.4 L844.0 1102.5 L846.0 1101.9 L847.0 1102.2 L848.0 1102.8 L850.0 1103.1 L852.0 1102.0 L854.0 1101.3 L856.0 1101.2 L858.0 1100.2 L860.0 1099.7 L862.0 1100.1 L864.0 1099.6 L866.0 1098.4 L867.3 1097.6 L868.0 1097.9 L870.0 1099.2 L872.0 1100.0 L874.0 1100.1 L876.0 1100.2 L878.0 1099.6 L880.0 1099.2 L882.0 1099.4 L884.0 1099.1 L886.0 1098.7 L888.0 1099.2 L890.0 1099.4 L892.0 1098.4 L894.0 1097.8 L896.0 1098.8 L898.0 1099.3 L900.0 1098.1 L902.0 1097.4 L904.0 1098.3 L906.0 1098.6 L908.0 1098.4 L910.0 1099.9 L912.0 1101.3 L914.0 1101.8 L916.0 1103.2 L918.0 1103.6 L920.0 1103.4 L920.3 1103.0 L922.0 1102.8 L924.0 1104.3 L926.0 1106.0 L928.0 1106.5 L930.0 1107.4 L932.0 1107.9 L934.0 1108.0 L936.0 1107.1 L938.0 1105.6 L938.5 1106.4 L940.0 1107.1 L942.0 1106.2 L944.0 1106.1 L946.0 1106.9 L948.0 1106.1 L950.0 1105.1 L952.0 1105.9 L954.0 1106.7 L956.0 1106.6 L958.0 1107.1 L960.0 1107.3 L960.8 1105.8 L962.0 1104.1 L964.0 1103.7 L966.0 1104.6 L968.0 1105.1 L970.0 1104.6 L972.0 1103.7 L974.0 1102.9 L976.0 1102.2 L978.0 1101.5 L980.0 1100.4 L982.0 1099.0 L984.0 1098.3 L986.0 1098.2 L986.2 1098.2 L988.0 1098.1 L990.0 1098.5 L992.0 1098.9 L994.0 1099.4 L996.0 1097.8 L998.0 1095.8 L1000.0 1095.4 L1001.4 1094.8 L1002.0 1094.3 L1004.0 1093.9 L1006.0 1091.7 L1008.0 1090.1 L1010.0 1090.8 L1012.0 1091.3 L1014.0 1090.8 L1016.0 1089.1 L1018.0 1088.2 L1020.0 1088.3 L1021.7 1087.3 L1022.0 1087.6 L1024.0 1087.5 L1026.0 1085.9 L1028.0 1084.3 L1030.0 1083.6 L1032.0 1082.7 L1034.0 1081.7 L1036.0 1081.7 L1036.9 1083.0 L1038.0 1083.4 L1040.0 1081.7 L1042.0 1080.9 L1044.0 1081.6 L1046.0 1081.9 L1048.0 1082.1 L1050.0 1083.0 L1050.1 1083.0 L1052.0 1083.3 L1054.0 1084.8 L1056.0 1086.5 L1057.2 1088.6 L1058.0 1090.5 L1060.0 1091.2 L1062.0 1091.5 L1064.0 1093.0 L1066.0 1095.3 L1067.3 1096.4 L1068.0 1097.0 L1070.0 1100.9 L1072.0 1105.3 L1074.0 1108.5 L1074.4 1109.0 L1076.0 1111.2 L1078.0 1112.8 L1080.0 1113.4 L1082.0 1114.3 L1084.0 1116.0 L1086.0 1117.9 L1087.6 1119.2 L1088.0 1119.9 L1090.0 1122.3 L1092.0 1124.8 L1094.0 1126.9 L1096.0 1127.9 L1098.0 1128.5 L1098.7 1129.8 L1100.0 1131.2 L1102.0 1131.6 L1104.0 1131.9 L1106.0 1131.8 L1108.0 1131.7 L1110.0 1132.6 L1112.0 1134.1 L1114.0 1134.1 L1116.0 1133.2 L1118.0 1133.0 L1120.0 1134.5 L1122.0 1136.1 L1124.0 1135.7 L1126.0 1135.4 L1128.0 1136.8 L1130.0 1137.7 L1132.0 1137.4 L1133.4 1137.3 L1134.0 1137.3 L1136.0 1137.2 L1138.0 1136.6 L1140.0 1136.5 L1142.0 1137.3 L1144.0 1138.0 L1146.0 1137.3 L1148.0 1135.9 L1150.0 1136.7 L1152.0 1137.6 L1154.0 1137.0 L1156.0 1137.4 L1158.0 1138.0 L1158.7 1137.6 L1160.0 1136.8 L1162.0 1137.4 L1164.0 1138.8 L1166.0 1139.3 L1168.0 1138.8 L1170.0 1138.7 L1172.0 1139.5 L1174.0 1139.8 L1176.0 1138.9 L1178.0 1138.9 L1180.0 1139.9 L1182.0 1140.2 L1184.0 1140.9 L1186.0 1142.2 L1188.0 1142.7 L1190.0 1142.9 L1192.0 1143.2 L1194.0 1143.4 L1196.0 1143.8 L1198.0 1143.6 L1200.0 1144.2 L1202.0 1145.8 L1204.0 1146.0 L1206.0 1145.7 L1208.0 1146.5 L1209.4 1147.4 L1210.0 1147.4 L1212.0 1147.9 L1214.0 1148.4 L1216.0 1147.7 L1218.0 1147.5 L1220.0 1148.5 L1222.0 1150.0 L1224.0 1150.9 L1226.0 1150.7 L1228.0 1150.0 L1230.0 1150.0 L1232.0 1150.5 L1234.0 1150.6 L1236.0 1151.3 L1238.0 1151.3 L1240.0 1150.6 L1242.0 1150.7 L1244.0 1151.8 L1246.0 1153.8 L1248.0 1154.3 L1250.0 1152.7 L1252.0 1150.9 L1254.0 1150.2 L1256.0 1151.3 L1258.0 1151.9 L1260.0 1151.7 L1262.0 1151.9 L1264.0 1151.4 L1266.0 1151.8 L1268.0 1152.1 L1270.0 1152.0 L1272.0 1153.3 L1274.0 1153.4 L1276.0 1151.5 L1278.0 1151.3 L1280.0 1152.8 L1282.0 1152.7 L1284.0 1151.8 L1286.0 1152.2 L1288.0 1152.8 L1290.0 1153.3 L1292.0 1153.9 L1294.0 1154.6 L1296.0 1155.4 L1298.0 1155.4 L1300.0 1154.9 L1302.0 1155.1 L1304.0 1155.2 L1306.0 1154.1 L1308.0 1153.1 L1310.0 1153.8 L1310.8 1154.7 L1312.0 1155.0 L1314.0 1154.7 L1316.0 1154.4 L1318.0 1155.1 L1320.0 1155.5 L1322.0 1154.8 L1324.0 1154.1 L1326.0 1154.2 L1328.0 1154.2 L1330.0 1154.4 L1332.0 1154.7 L1334.0 1155.7 L1336.0 1156.3 L1338.0 1155.3 L1340.0 1154.8 L1342.0 1155.2 L1344.0 1155.2 L1346.0 1154.3 L1348.0 1154.3 L1350.0 1155.4 L1352.0 1156.0 L1354.0 1155.7 L1356.0 1155.0 L1358.0 1155.2 L1360.0 1156.7 L1362.0 1157.6 L1364.0 1157.1 L1366.0 1156.7 L1368.0 1156.4 L1370.0 1155.7 L1372.0 1155.7 L1374.0 1156.3 L1376.0 1156.7 L1378.0 1156.2 L1380.0 1156.1 L1382.0 1157.9 L1384.0 1158.6 L1386.0 1157.5 L1388.0 1157.2 L1390.0 1157.7 L1392.0 1157.1 L1394.0 1156.8 L1396.0 1157.6 L1398.0 1157.9 L1400.0 1158.0 L1402.0 1157.6 L1404.0 1156.9 L1406.0 1157.4 L1408.0 1157.7 L1410.0 1156.9 L1412.0 1156.6 L1414.0 1156.2 L1416.0 1156.4 L1418.0 1158.2 L1420.0 1158.6 L1422.0 1158.4 L1424.0 1158.3 L1426.0 1157.5 L1428.0 1158.1 L1428.8 1159.7 L1430.0 1158.5 L1432.0 1155.2 L1434.0 1154.0 L1436.0 1156.4 L1438.0 1158.5 L1440.0 1158.3 L1442.0 1158.3 L1444.0 1158.6 L1446.0 1158.2 L1448.0 1158.8 L1450.0 1159.7 L1452.0 1159.8 L1454.0 1159.3 L1456.0 1159.0 L1458.0 1159.2 L1460.0 1159.7 L1462.0 1161.4 L1464.0 1161.9 L1466.0 1159.2 L1468.0 1157.5 L1470.0 1158.8 L1472.0 1160.5 L1474.0 1161.5 L1476.0 1161.2 L1478.0 1159.8 L1480.0 1160.0 L1482.0 1160.8 L1484.0 1160.7 L1486.0 1161.1 L1487.6 1161.4 L1488.0 1161.6 L1490.0 1162.1 L1492.0 1162.3 L1494.0 1161.7 L1496.0 1160.9 L1498.0 1161.2 L1500.0 1161.8 L1502.0 1162.4 L1504.0 1162.8 L1506.0 1161.9 L1508.0 1161.1 L1510.0 1161.2 L1512.0 1162.1 L1514.0 1162.6 L1516.0 1162.7 L1518.0 1163.5 L1520.0 1163.5 L1522.0 1162.4 L1524.0 1162.0 L1526.0 1163.1 L1528.0 1163.2 L1530.0 1162.7 L1532.0 1164.4 L1534.0 1165.6 L1536.0 1164.8 L1538.0 1165.2 L1540.0 1166.5 L1542.0 1165.4 L1544.0 1163.5 L1546.0 1163.3 L1546.4 1163.6 L1548.0 1162.6 L1550.0 1162.1 L1552.0 1163.2 L1554.0 1163.7 L1556.0 1163.6 L1558.0 1164.1 L1560.0 1164.4 L1562.0 1163.6 L1564.0 1163.2 L1566.0 1164.5 L1568.0 1165.1 L1570.0 1164.7 L1572.0 1164.9 L1574.0 1164.4 L1576.0 1164.1 L1578.0 1164.5 L1580.0 1164.2 L1582.0 1164.1 L1584.0 1164.0 L1586.0 1163.5 L1588.0 1162.6 L1590.0 1163.0 L1592.0 1164.4 L1594.0 1164.4 L1596.0 1163.7 L1598.0 1163.6 L1600.0 1163.4 L1602.0 1162.3 L1604.0 1162.2 L1606.0 1162.8 L1608.0 1162.7 L1610.0 1162.8 L1612.0 1163.4 L1614.0 1163.6 L1616.0 1164.3 L1618.0 1165.5 L1620.0 1165.9 L1622.0 1165.2 L1624.0 1164.0 L1626.0 1162.7 L1628.0 1162.0 L1630.0 1161.8 L1632.0 1161.3 L1634.0 1162.2 L1636.0 1164.1 L1638.0 1164.9 L1640.0 1163.8 L1642.0 1162.4 L1644.0 1162.1 L1646.0 1162.1 L1648.0 1162.3 L1650.0 1162.4 L1652.0 1163.3 L1654.0 1164.2 L1656.0 1164.0 L1658.0 1163.5 L1660.0 1162.0 L1662.0 1161.2 L1664.0 1162.5 L1666.0 1162.4 L1668.0 1160.9 L1670.0 1159.8 L1672.0 1159.2 L1674.0 1160.0 L1676.0 1160.9 L1678.0 1160.2 L1680.0 1159.0 L1682.0 1158.8 L1684.0 1160.0 L1686.0 1160.9 L1688.0 1160.7 L1690.0 1159.7 L1692.0 1159.4 L1694.0 1160.5 L1696.0 1160.2 L1698.0 1159.7 L1700.0 1159.1 L1702.0 1157.9 L1704.0 1158.4 L1706.0 1159.4 L1708.0 1160.2 L1710.0 1160.9 L1712.0 1159.7 L1714.0 1158.2 L1716.0 1158.8 L1718.0 1160.0 L1720.0 1159.8 L1722.0 1158.8 L1724.0 1159.1 L1726.0 1160.9 L1728.0 1161.7 L1730.0 1161.0 L1732.0 1161.2 L1734.0 1161.8 L1736.0 1160.9 L1738.0 1162.4 L1740.0 1164.7 L1742.0 1164.4 L1744.0 1163.6 L1746.0 1164.0 L1748.0 1164.7 L1750.0 1164.5 L1752.0 1164.9 L1752.2 1165.0 L1754.0 1165.0 L1756.0 1165.4 L1758.0 1164.9 L1760.0 1165.1 L1762.0 1166.0 L1764.0 1166.5 L1766.0 1167.5 L1768.0 1168.0 L1770.0 1167.4 L1772.0 1166.9 L1774.0 1167.2 L1776.0 1168.0 L1778.0 1168.9 L1780.0 1169.0 L1782.0 1169.1 L1784.0 1168.9 L1786.0 1169.1 L1788.0 1169.6 L1790.0 1169.5 L1792.0 1170.4 L1794.0 1171.2 L1796.0 1170.4 L1798.0 1169.8 L1800.0 1169.7 L1802.0 1169.8 L1804.0 1170.2 L1806.0 1170.9 L1808.0 1171.7 L1810.0 1173.0 L1811.0 1174.0 L1812.0 1173.8 L1814.0 1173.6 L1816.0 1173.4 L1818.0 1173.1 L1820.0 1172.5 L1822.0 1172.6 L1824.0 1174.6 L1826.0 1176.4 L1828.0 1176.0 L1830.0 1176.0 L1832.0 1176.8 L1834.0 1176.3 L1836.0 1175.4 L1838.0 1175.3 L1840.0 1175.8 L1842.0 1177.6 L1844.0 1179.0 L1846.0 1178.1 L1848.0 1176.9 L1850.0 1177.2 L1852.0 1177.2 L1854.0 1177.0 L1855.0 1178.2 L1856.0 1179.3 L1858.0 1179.4 L1860.0 1178.8 L1862.0 1177.2 L1864.0 1177.4 L1866.0 1179.7 L1868.0 1179.7 L1870.0 1178.3 L1872.0 1178.6 L1874.0 1179.4 L1876.0 1179.7 L1878.0 1179.4 L1880.0 1179.0 L1882.0 1179.3 L1884.0 1179.6 L1886.0 1178.7 L1888.0 1176.7 L1890.0 1175.9 L1892.0 1177.0 L1894.0 1178.0 L1896.0 1179.5 L1898.0 1180.5 L1900.0 1180.1 L1902.0 1179.6 L1904.0 1180.2 L1906.0 1180.5 L1908.0 1180.1 L1910.0 1180.6 L1912.0 1181.0 L1914.0 1181.0 L1916.0 1180.9 L1918.0 1180.3 L1920.0 1180.0 L1922.0 1179.3 L1924.0 1178.5 L1926.0 1179.0 L1928.0 1179.5 L1930.0 1179.4 L1932.0 1179.2 L1934.0 1179.5 L1935.0 1180.4" fill="none" stroke="#00a83c" stroke-width="10.5" stroke-linejoin="round" stroke-linecap="round"/>
<path d="M412.0 920.7 L414.0 916.2 L416.0 923.1 L417.0 926.2 L418.0 927.3 L420.0 930.3 L422.0 932.7 L424.0 934.0 L426.0 934.9 L428.0 936.6 L430.0 938.8 L432.0 940.4 L434.0 941.2 L436.0 941.4 L438.0 942.3 L440.0 943.4 L442.0 943.3 L444.0 944.0 L446.0 944.2 L448.0 943.6 L450.0 943.8 L452.0 944.3 L454.0 944.9 L456.0 945.4 L458.0 944.8 L460.0 943.3 L462.0 942.9 L463.0 943.6 L464.0 943.4 L466.0 942.6 L468.0 943.3 L470.0 944.1 L472.0 944.1 L474.0 945.3 L475.0 946.0 L476.0 946.2 L478.0 945.4 L480.0 943.5 L482.0 942.5 L484.0 942.6 L486.0 942.7 L488.0 941.7 L490.0 939.5 L492.0 937.7 L494.0 936.1 L495.0 935.4 L496.0 934.7 L498.0 932.9 L500.0 930.4 L501.0 928.2 L502.0 926.2 L504.0 922.5 L506.0 917.7 L508.0 911.2 L510.0 903.6 L510.9 900.0 L512.0 896.1 L514.0 889.5 L515.7 881.6 L516.0 879.7 L518.0 861.7 L519.4 845.2 L520.0 837.2 L522.0 804.2 L522.4 797.0 L524.0 764.7 L524.8 748.0 L526.0 727.7 L527.2 700.0 L528.0 649.9 L528.6 606.0 L530.0 524.8 L530.6 500.0 L532.0 466.3 L533.2 442.1 L534.0 421.9 L535.0 398.0 L536.0 375.5 L537.0 361.2 L538.0 375.4 L539.0 397.9 L540.0 419.2 L540.8 442.1 L541.9 500.1 L542.0 505.2 L543.9 606.0 L544.0 614.6 L544.8 700.0 L546.0 730.8 L547.2 747.7 L548.0 758.3 L550.0 779.5 L552.0 796.8 L554.0 812.9 L556.0 825.8 L556.3 827.2 L558.0 834.2 L560.0 840.9 L561.7 845.4 L562.0 845.9 L564.0 851.2 L566.0 854.3 L568.0 852.7 L570.0 847.7 L572.0 841.3 L572.6 839.2 L574.0 833.4 L576.0 822.8 L577.4 814.9 L578.0 811.8 L580.0 799.8 L582.0 787.0 L582.3 785.1 L584.0 774.5 L586.0 760.0 L588.0 736.4 L589.0 724.0 L590.0 714.8 L591.4 699.9 L592.0 686.6 L594.0 617.6 L594.5 606.1 L596.0 584.9 L598.0 565.1 L599.2 553.5 L600.0 544.6 L602.0 526.2 L604.0 515.3 L605.0 514.3 L606.0 514.8 L608.0 526.1 L610.0 547.1 L610.5 553.1 L612.0 571.5 L614.0 598.6 L614.5 605.9 L616.0 630.6 L618.0 667.5 L619.8 699.9 L620.0 703.4 L622.0 736.4 L622.8 748.1 L624.0 763.9 L626.0 787.0 L627.0 797.0 L628.0 806.0 L630.0 821.9 L632.0 836.6 L633.1 845.0 L634.0 852.2 L636.0 867.8 L638.0 881.5 L640.0 892.4 L641.7 900.7 L642.0 902.3 L644.0 914.0 L646.0 923.9 L646.8 926.2 L648.0 928.5 L650.0 931.1 L652.0 933.1 L654.0 935.5 L654.9 936.8 L656.0 938.0 L658.0 940.0 L660.0 940.0 L662.0 939.4 L664.0 941.9 L666.0 944.7 L667.0 944.8 L668.0 944.5 L670.0 946.2 L672.0 948.8 L674.0 950.4 L676.0 950.6 L676.2 950.7 L678.0 950.2 L680.0 947.6 L682.0 944.3 L684.0 941.5 L686.0 938.5 L687.3 936.5 L688.0 935.6 L690.0 931.7 L692.0 927.9 L694.0 925.7 L696.0 922.6 L697.5 919.2 L698.0 918.1 L700.0 914.4 L702.0 910.6 L704.0 906.8 L704.5 905.8 L706.0 901.8 L708.0 895.9 L708.5 894.8 L710.0 891.3 L712.0 885.7 L712.7 883.2 L714.0 878.6 L716.0 871.7 L717.8 866.1 L718.0 865.5 L720.0 858.2 L722.0 851.3 L722.9 848.3 L724.0 845.3 L726.0 840.6 L726.5 839.1 L728.0 836.9 L730.0 836.2 L730.5 836.8 L732.0 837.2 L734.0 839.6 L734.5 840.3 L736.0 845.7 L736.8 849.2 L738.0 854.1 L740.0 863.0 L740.7 866.2 L742.0 872.0 L744.0 880.2 L744.9 883.2 L746.0 886.8 L748.0 893.9 L749.4 900.3 L750.0 904.1 L752.0 918.5 L752.4 920.8 L754.0 928.5 L756.0 935.7 L756.5 936.4 L758.0 939.4 L760.0 943.5 L762.0 946.1 L764.0 947.9 L765.6 949.6 L766.0 949.5 L768.0 950.6 L770.0 952.2 L772.0 954.6 L774.0 956.6 L775.8 958.2 L776.0 958.2 L778.0 959.2 L780.0 960.9 L782.0 962.5 L784.0 963.1 L785.9 963.3 L786.0 963.7 L788.0 964.8 L790.0 965.8 L792.0 966.1 L794.0 965.6 L796.0 965.2 L798.0 964.6 L800.0 964.4 L802.0 964.8 L804.0 964.8 L806.0 963.6 L808.0 962.0 L809.2 961.8 L810.0 961.2 L812.0 958.0 L814.0 954.1 L816.0 951.8 L816.3 952.7 L818.0 951.0 L820.0 948.3 L822.0 945.7 L824.0 944.1 L826.0 943.9 L827.5 944.4 L828.0 944.5 L830.0 944.1 L832.0 945.1 L834.0 945.7 L836.0 945.2 L837.6 945.3 L838.0 945.2 L840.0 947.9 L842.0 952.1 L843.7 954.4 L844.0 953.7 L846.0 954.6 L848.0 955.4 L850.0 955.1 L852.0 955.2 L854.0 955.6 L856.0 956.5 L856.9 957.9 L858.0 959.4 L860.0 961.2 L862.0 962.1 L864.0 962.3 L866.0 962.5 L868.0 963.2 L870.0 963.6 L870.1 963.5 L872.0 965.6 L874.0 966.3 L876.0 966.6 L878.0 968.2 L880.0 970.2 L882.0 970.8 L882.2 969.9 L884.0 969.0 L886.0 966.8 L888.0 964.2 L890.0 962.4 L892.0 961.0 L892.4 960.7 L894.0 961.2 L896.0 961.4 L898.0 961.7 L900.0 961.6 L902.0 961.3 L904.0 962.0 L906.0 962.2 L908.0 961.4 L910.0 961.9 L911.0 962.7 L912.0 961.7 L914.0 960.7 L916.0 959.6 L918.0 957.6 L920.0 955.6 L922.0 953.4 L923.7 951.8 L924.0 951.3 L926.0 948.7 L928.0 946.2 L930.0 942.6 L932.0 938.3 L933.9 934.2 L934.0 934.1 L936.0 929.0 L938.0 923.1 L939.8 918.0 L940.0 917.0 L942.0 912.5 L944.0 909.5 L946.0 906.8 L948.0 905.2 L949.0 905.6 L950.0 905.3 L952.0 907.0 L953.5 909.5 L954.0 910.8 L956.0 914.7 L957.6 917.8 L958.0 918.6 L960.0 923.6 L962.0 929.2 L964.0 934.2 L964.4 934.7 L966.0 937.6 L968.0 941.7 L970.0 946.3 L972.0 950.2 L972.8 951.6 L974.0 954.0 L976.0 957.4 L978.0 960.6 L980.0 962.9 L980.5 964.0 L982.0 966.5 L984.0 967.4 L986.0 968.1 L988.0 968.7 L990.0 968.3 L992.0 969.9 L994.0 971.4 L996.0 971.8 L997.4 972.0 L998.0 971.6 L1000.0 973.1 L1002.0 973.8 L1004.0 972.5 L1006.0 972.7 L1008.0 974.4 L1010.0 975.0 L1012.0 975.1 L1014.0 975.8 L1016.0 975.6 L1018.0 974.9 L1020.0 974.9 L1022.0 974.2 L1024.0 973.1 L1026.0 974.0 L1028.0 976.3 L1030.0 977.7 L1032.0 977.7 L1034.0 976.3 L1036.0 976.2 L1038.0 977.2 L1040.0 977.4 L1042.0 977.7 L1044.0 977.5 L1046.0 976.2 L1048.0 975.1 L1050.0 976.8 L1052.0 979.2 L1054.0 979.9 L1056.0 979.4 L1058.0 978.3 L1060.0 977.7 L1062.0 978.0 L1064.0 978.7 L1066.0 979.3 L1068.0 980.2 L1070.0 980.5 L1072.0 979.9 L1074.0 979.5 L1076.0 979.8 L1078.0 980.7 L1080.0 981.1 L1082.0 981.3 L1084.0 982.7 L1086.0 983.7 L1088.0 983.4 L1090.0 982.7 L1092.0 983.0 L1094.0 983.9 L1096.0 984.2 L1098.0 984.7 L1100.0 985.8 L1102.0 986.4 L1104.0 986.4 L1106.0 987.6 L1108.0 987.9 L1110.0 987.0 L1112.0 988.4 L1114.0 989.2 L1116.0 987.9 L1118.0 987.1 L1120.0 986.7 L1122.0 987.1 L1124.0 987.6 L1126.0 987.4 L1128.0 986.8 L1130.0 986.5 L1132.0 986.8 L1133.4 986.7 L1134.0 986.9 L1136.0 986.8 L1138.0 986.4 L1140.0 986.6 L1142.0 985.9 L1144.0 984.4 L1146.0 984.3 L1148.0 983.8 L1150.0 982.5 L1152.0 981.9 L1154.0 981.7 L1156.0 982.1 L1158.0 982.2 L1158.7 982.2 L1160.0 982.7 L1162.0 982.9 L1164.0 983.7 L1166.0 983.9 L1168.0 983.5 L1170.0 985.2 L1172.0 986.3 L1174.0 985.5 L1176.0 985.4 L1178.0 985.8 L1180.0 986.0 L1182.0 986.2 L1184.0 986.7 L1186.0 988.0 L1188.0 988.6 L1190.0 989.0 L1192.0 990.2 L1194.0 990.7 L1196.0 990.2 L1198.0 990.5 L1200.0 992.1 L1202.0 991.8 L1204.0 989.7 L1206.0 989.7 L1208.0 991.4 L1209.4 993.0 L1210.0 993.3 L1212.0 992.6 L1214.0 992.7 L1216.0 992.7 L1218.0 992.2 L1220.0 992.7 L1222.0 993.1 L1224.0 993.2 L1226.0 992.9 L1228.0 992.1 L1230.0 992.4 L1232.0 993.4 L1234.0 993.9 L1236.0 994.3 L1238.0 994.7 L1240.0 993.8 L1242.0 993.0 L1244.0 993.5 L1246.0 994.1 L1248.0 994.8 L1250.0 995.7 L1252.0 996.0 L1254.0 996.0 L1256.0 995.6 L1258.0 995.3 L1260.0 995.4 L1262.0 995.0 L1264.0 994.4 L1266.0 994.0 L1268.0 994.2 L1270.0 994.6 L1272.0 995.6 L1274.0 997.4 L1276.0 997.9 L1278.0 996.6 L1280.0 995.5 L1282.0 995.5 L1284.0 995.0 L1286.0 994.3 L1288.0 994.3 L1290.0 994.2 L1292.0 994.7 L1294.0 995.4 L1296.0 994.6 L1298.0 994.4 L1300.0 994.8 L1302.0 993.9 L1304.0 993.1 L1306.0 993.7 L1308.0 994.9 L1310.0 995.4 L1310.8 994.9 L1312.0 994.1 L1314.0 994.2 L1316.0 994.6 L1318.0 994.0 L1320.0 993.8 L1322.0 993.9 L1324.0 994.4 L1326.0 995.8 L1328.0 995.5 L1330.0 994.8 L1332.0 995.8 L1334.0 996.5 L1336.0 997.0 L1338.0 997.5 L1340.0 997.0 L1342.0 997.5 L1344.0 998.2 L1346.0 998.0 L1348.0 998.0 L1350.0 998.7 L1352.0 998.7 L1354.0 998.8 L1356.0 1000.2 L1358.0 999.7 L1360.0 998.0 L1362.0 999.5 L1364.0 1002.3 L1366.0 1002.9 L1368.0 1001.2 L1370.0 999.8 L1372.0 1000.9 L1374.0 1002.3 L1376.0 1002.1 L1378.0 1001.1 L1380.0 1001.2 L1382.0 1001.9 L1384.0 1001.9 L1386.0 1002.0 L1388.0 1002.8 L1390.0 1003.2 L1392.0 1002.5 L1394.0 1001.1 L1396.0 1000.6 L1398.0 1002.1 L1400.0 1002.8 L1402.0 1001.0 L1404.0 999.4 L1406.0 1000.2 L1408.0 1002.3 L1410.0 1003.6 L1412.0 1003.3 L1414.0 1002.8 L1416.0 1003.2 L1418.0 1002.6 L1420.0 1000.8 L1422.0 999.9 L1423.0 1000.1 L1424.0 1000.7 L1426.0 1001.2 L1428.0 1001.2 L1430.0 1001.0 L1432.0 1001.1 L1434.0 1002.1 L1436.0 1003.2 L1438.0 1003.7 L1440.0 1004.9 L1442.0 1004.4 L1444.0 1002.8 L1446.0 1003.4 L1448.0 1003.3 L1450.0 1002.5 L1452.0 1003.2 L1454.0 1003.8 L1456.0 1003.6 L1458.0 1003.2 L1460.0 1003.6 L1462.0 1004.2 L1464.0 1003.8 L1466.0 1003.4 L1467.0 1003.2 L1468.0 1003.3 L1470.0 1002.8 L1472.0 1002.7 L1474.0 1004.2 L1476.0 1004.8 L1478.0 1004.7 L1480.0 1004.3 L1482.0 1004.1 L1484.0 1004.7 L1486.0 1003.9 L1488.0 1003.7 L1490.0 1004.6 L1492.0 1004.7 L1494.0 1003.4 L1496.0 1002.3 L1498.0 1001.9 L1500.0 1001.1 L1502.0 1001.6 L1504.0 1003.1 L1506.0 1003.7 L1508.0 1002.9 L1510.0 1001.7 L1512.0 1001.2 L1514.0 1001.0 L1516.0 1001.6 L1518.0 1001.7 L1520.0 1000.9 L1522.0 1000.4 L1524.0 1000.2 L1526.0 1000.7 L1528.0 1000.7 L1530.0 999.7 L1532.0 999.6 L1534.0 1000.2 L1536.0 1000.6 L1538.0 1000.1 L1540.0 998.5 L1542.0 996.7 L1544.0 996.3 L1546.0 997.5 L1548.0 997.8 L1550.0 997.2 L1552.0 996.3 L1554.0 994.7 L1556.0 994.2 L1558.0 994.1 L1560.0 993.0 L1562.0 992.6 L1564.0 992.5 L1566.0 992.4 L1568.0 992.0 L1570.0 990.4 L1572.0 988.7 L1574.0 987.7 L1576.0 987.7 L1578.0 988.2 L1580.0 988.3 L1582.0 988.3 L1584.0 988.1 L1586.0 986.7 L1588.0 985.9 L1590.0 986.8 L1592.0 986.9 L1594.0 985.6 L1596.0 985.9 L1598.0 987.4 L1600.0 987.5 L1602.0 986.7 L1604.0 985.7 L1606.0 984.5 L1608.0 983.7 L1610.0 983.4 L1611.0 982.9 L1612.0 982.3 L1614.0 981.8 L1616.0 981.5 L1618.0 980.7 L1620.0 980.0 L1622.0 979.5 L1624.0 977.5 L1626.0 976.0 L1628.0 975.4 L1630.0 973.6 L1632.0 972.2 L1634.0 970.5 L1636.0 968.3 L1638.0 967.6 L1640.0 967.1 L1642.0 966.5 L1644.0 965.9 L1646.0 965.1 L1648.0 964.2 L1650.0 962.8 L1652.0 960.7 L1654.0 958.7 L1656.0 956.9 L1658.0 954.8 L1660.0 953.7 L1662.0 953.4 L1664.0 951.4 L1666.0 948.8 L1668.0 948.0 L1669.0 948.6 L1670.0 948.6 L1672.0 946.8 L1674.0 944.2 L1676.0 942.9 L1678.0 942.6 L1680.0 941.8 L1682.0 941.3 L1684.0 940.9 L1686.0 940.2 L1688.0 939.4 L1690.0 939.1 L1692.0 938.6 L1694.0 937.1 L1696.0 936.2 L1698.0 936.6 L1700.0 936.3 L1702.0 935.5 L1704.0 934.2 L1706.0 933.1 L1708.0 933.2 L1710.0 932.5 L1712.0 932.4 L1714.0 933.5 L1716.0 933.6 L1718.0 934.3 L1720.0 936.0 L1722.0 936.8 L1724.0 936.8 L1726.0 938.5 L1728.0 941.2 L1730.0 942.1 L1732.0 943.3 L1734.0 946.6 L1736.0 949.8 L1738.0 951.9 L1740.0 953.4 L1741.0 953.9 L1742.0 954.8 L1744.0 956.5 L1746.0 958.1 L1748.0 960.2 L1750.0 961.9 L1752.0 963.6 L1754.0 966.1 L1756.0 968.5 L1758.0 969.2 L1760.0 969.8 L1762.0 972.2 L1764.0 974.5 L1766.0 976.1 L1768.0 977.9 L1770.0 979.7 L1772.0 982.1 L1774.0 983.9 L1776.0 985.5 L1778.0 987.8 L1780.0 989.5 L1782.0 990.5 L1784.0 991.7 L1786.0 994.3 L1788.0 996.9 L1790.0 997.8 L1792.0 998.6 L1794.0 1001.0 L1796.0 1003.0 L1798.0 1003.4 L1799.0 1002.5 L1800.0 1002.1 L1802.0 1003.2 L1804.0 1004.8 L1806.0 1006.5 L1808.0 1007.4 L1810.0 1007.1 L1812.0 1007.2 L1814.0 1008.2 L1816.0 1009.6 L1818.0 1011.0 L1820.0 1011.4 L1822.0 1012.5 L1824.0 1013.4 L1826.0 1013.7 L1828.0 1014.8 L1830.0 1015.2 L1832.0 1015.0 L1834.0 1015.8 L1836.0 1017.5 L1838.0 1018.3 L1840.0 1018.2 L1842.0 1019.4 L1844.0 1020.2 L1846.0 1020.5 L1848.0 1021.5 L1850.0 1022.5 L1852.0 1023.5 L1854.0 1024.2 L1856.0 1025.0 L1858.0 1026.7 L1860.0 1027.1 L1862.0 1025.7 L1864.0 1025.5 L1866.0 1026.8 L1868.0 1028.2 L1870.0 1029.4 L1871.0 1030.5 L1872.0 1030.9 L1874.0 1030.6 L1876.0 1030.5 L1878.0 1030.4 L1880.0 1031.2 L1882.0 1032.4 L1884.0 1032.4 L1886.0 1032.1 L1888.0 1032.6 L1890.0 1033.6 L1892.0 1034.2 L1894.0 1033.7 L1896.0 1033.6 L1898.0 1034.3 L1900.0 1034.6 L1902.0 1035.1 L1904.0 1036.1 L1906.0 1035.7 L1908.0 1035.6 L1910.0 1037.7 L1912.0 1039.4 L1914.0 1040.4 L1916.0 1040.3 L1918.0 1038.2 L1920.0 1037.7 L1922.0 1039.0 L1924.0 1039.6 L1926.0 1039.0 L1928.0 1039.3 L1930.0 1039.9 L1932.0 1039.5 L1934.0 1040.1 L1935.0 1040.9" fill="none" stroke="#000000" stroke-width="10.5" stroke-linejoin="round" stroke-linecap="round"/>
<path d="M412.0 773.5 L414.0 767.7 L416.0 765.8 L418.0 766.4 L418.6 766.4 L420.0 771.2 L421.8 779.5 L422.0 779.8 L424.0 782.3 L426.0 783.9 L426.5 783.3 L428.0 784.4 L430.0 789.1 L432.0 794.5 L434.0 798.8 L436.0 802.9 L436.7 804.4 L438.0 807.2 L439.9 809.4 L440.0 809.6 L442.0 810.4 L444.0 811.3 L446.0 811.2 L447.7 811.0 L448.0 811.6 L450.0 809.0 L452.0 804.6 L454.0 802.3 L456.0 803.2 L458.0 804.5 L460.0 805.4 L461.1 806.1 L462.0 806.3 L464.0 804.7 L466.0 802.5 L468.0 800.5 L470.0 798.8 L470.5 798.8 L472.0 800.0 L474.0 801.9 L476.0 804.8 L478.0 806.4 L478.4 805.7 L480.0 807.2 L482.0 809.1 L484.0 811.2 L485.5 812.4 L486.0 812.2 L488.0 814.5 L490.0 817.3 L492.0 820.0 L492.5 820.6 L494.0 824.8 L496.0 831.2 L496.5 831.9 L498.0 834.0 L500.0 836.3 L502.0 838.1 L504.0 840.0 L504.3 839.9 L506.0 844.1 L508.0 850.5 L508.3 850.5 L510.0 852.7 L512.0 854.8 L514.0 855.6 L516.0 856.8 L516.1 857.1 L518.0 859.0 L520.0 860.9 L522.0 862.9 L524.0 864.9 L526.0 866.2 L528.0 867.4 L529.5 867.8 L530.0 866.8 L532.0 865.9 L534.0 866.6 L536.0 867.7 L538.0 867.2 L540.0 866.0 L540.3 866.2 L542.0 867.4 L544.0 868.4 L546.0 870.2 L548.0 872.2 L550.0 872.6 L550.4 872.7 L552.0 873.1 L554.0 872.8 L556.0 873.2 L558.0 873.4 L560.0 872.0 L560.6 870.4 L562.0 870.4 L564.0 871.7 L566.0 872.9 L568.0 873.6 L570.0 873.9 L570.7 873.7 L572.0 874.1 L574.0 875.6 L576.0 877.2 L578.0 878.7 L580.0 880.8 L582.0 883.0 L584.0 882.8 L585.9 882.2 L586.0 883.5 L588.0 882.4 L590.0 880.1 L592.0 878.3 L594.0 875.9 L596.0 873.3 L598.0 871.6 L599.1 871.3 L600.0 872.5 L602.0 873.7 L604.0 874.2 L606.0 876.0 L608.0 877.6 L609.2 877.4 L610.0 877.8 L612.0 879.9 L614.0 882.0 L616.0 884.9 L618.0 888.1 L619.4 889.8 L620.0 890.1 L622.0 892.1 L624.0 894.2 L626.0 895.8 L628.0 897.4 L630.0 898.6 L631.5 899.9 L632.0 900.6 L634.0 901.3 L636.0 901.8 L638.0 902.4 L640.0 902.6 L641.7 903.6 L642.0 904.7 L644.0 906.2 L646.0 907.3 L648.0 907.1 L650.0 907.3 L651.8 909.4 L652.0 909.2 L654.0 908.0 L656.0 908.4 L658.0 907.4 L660.0 905.7 L662.0 905.9 L664.0 907.1 L666.0 907.7 L667.0 906.8 L668.0 906.4 L670.0 907.6 L672.0 908.8 L674.0 910.3 L674.1 911.2 L676.0 913.6 L678.0 915.5 L680.0 916.4 L682.0 916.8 L682.2 917.4 L684.0 917.2 L686.0 916.0 L688.0 915.8 L690.0 916.5 L692.0 915.5 L694.0 913.6 L696.0 914.0 L697.5 913.5 L698.0 911.4 L700.0 912.0 L702.0 914.1 L704.0 915.6 L706.0 916.6 L708.0 917.5 L710.0 919.1 L712.0 921.4 L712.7 921.5 L714.0 919.1 L716.0 918.7 L718.0 919.0 L720.0 916.8 L722.0 913.8 L724.0 911.2 L725.0 911.5 L726.0 911.9 L728.0 911.5 L730.0 911.4 L732.0 912.6 L734.0 914.3 L736.0 915.5 L738.0 914.7 L740.0 913.2 L740.3 914.0 L742.0 914.7 L744.0 912.0 L746.0 908.7 L748.0 906.8 L750.0 906.0 L750.4 906.0 L752.0 904.7 L754.0 904.2 L756.0 903.5 L758.0 901.9 L760.0 901.8 L762.0 902.6 L764.0 902.3 L765.6 900.8 L766.0 900.3 L768.0 899.3 L770.0 897.7 L772.0 896.0 L774.0 894.7 L776.0 894.0 L778.0 894.3 L780.0 894.4 L782.0 893.3 L784.0 893.0 L785.9 892.9 L786.0 892.3 L788.0 892.4 L790.0 893.7 L792.0 896.2 L794.0 897.3 L796.0 895.1 L798.0 893.9 L800.0 893.5 L802.0 892.2 L802.1 891.2 L804.0 891.7 L806.0 893.0 L808.0 894.7 L810.0 895.9 L812.0 896.6 L814.0 897.8 L814.3 898.7 L816.0 901.1 L818.0 904.0 L820.0 906.3 L821.4 906.2 L822.0 905.3 L824.0 906.1 L826.0 907.4 L828.0 907.3 L830.0 906.1 L832.0 905.9 L834.0 906.9 L836.0 907.3 L838.0 907.1 L839.7 907.4 L840.0 907.9 L842.0 907.6 L844.0 906.6 L846.0 905.2 L848.0 903.6 L850.0 901.9 L851.8 900.6 L852.0 900.6 L854.0 901.0 L856.0 901.3 L858.0 902.4 L860.0 903.0 L862.0 902.0 L864.0 902.1 L866.0 903.8 L867.0 904.4 L868.0 903.6 L870.0 903.0 L872.0 903.3 L874.0 902.4 L876.0 900.4 L878.0 899.2 L880.0 898.7 L882.0 898.3 L882.2 897.7 L884.0 898.1 L886.0 899.3 L888.0 899.6 L890.0 899.8 L892.0 899.7 L892.4 899.3 L894.0 903.0 L896.0 907.4 L896.4 907.4 L898.0 907.0 L900.0 906.1 L902.0 905.2 L904.0 903.4 L906.0 901.7 L907.6 901.6 L908.0 902.7 L910.0 903.2 L912.0 902.3 L914.0 902.5 L916.0 903.8 L918.0 904.5 L918.7 905.1 L920.0 905.1 L922.0 905.0 L924.0 906.1 L926.0 907.8 L928.0 908.9 L930.0 909.1 L930.7 910.1 L932.0 910.5 L934.0 908.6 L936.0 906.8 L938.0 906.2 L940.0 906.0 L942.0 906.1 L944.0 905.8 L946.0 905.7 L948.0 905.5 L950.0 904.0 L952.0 904.9 L954.0 907.6 L956.0 907.9 L958.0 907.1 L960.0 907.3 L962.0 907.9 L964.0 907.2 L966.0 905.8 L968.0 905.0 L970.0 905.1 L972.0 905.1 L974.0 904.8 L976.0 905.1 L978.0 905.5 L980.0 906.1 L981.4 906.0 L982.0 905.2 L984.0 906.0 L986.0 907.0 L988.0 906.5 L990.0 906.2 L992.0 906.1 L994.0 905.4 L996.0 903.6 L998.0 901.6 L1000.0 900.9 L1002.0 900.2 L1004.0 899.0 L1006.0 898.4 L1006.7 897.9 L1008.0 897.6 L1010.0 898.0 L1012.0 897.5 L1014.0 896.0 L1016.0 894.8 L1018.0 894.2 L1020.0 893.6 L1022.0 893.0 L1024.0 892.5 L1026.0 892.1 L1028.0 892.4 L1029.5 892.8 L1030.0 892.2 L1032.0 891.5 L1034.0 891.8 L1036.0 892.7 L1038.0 893.1 L1040.0 892.6 L1042.0 891.5 L1044.0 892.3 L1046.0 895.1 L1048.0 897.4 L1050.0 898.7 L1052.0 899.3 L1052.3 898.8 L1054.0 899.0 L1056.0 900.3 L1058.0 902.7 L1060.0 905.0 L1062.0 907.5 L1064.0 910.1 L1066.0 912.8 L1068.0 915.3 L1070.0 917.1 L1072.0 918.8 L1072.6 919.3 L1074.0 921.4 L1076.0 924.1 L1078.0 926.0 L1080.0 928.2 L1082.0 930.5 L1084.0 932.3 L1086.0 933.7 L1088.0 934.8 L1090.0 937.1 L1092.0 939.1 L1094.0 939.5 L1095.4 939.7 L1096.0 940.1 L1098.0 941.1 L1100.0 942.3 L1102.0 943.9 L1104.0 943.9 L1106.0 944.4 L1108.0 946.8 L1110.0 948.0 L1112.0 948.0 L1114.0 948.1 L1116.0 948.0 L1118.0 948.5 L1120.0 949.7 L1120.7 950.4 L1122.0 950.4 L1124.0 949.8 L1126.0 949.3 L1128.0 949.9 L1130.0 951.4 L1132.0 951.6 L1134.0 950.4 L1136.0 950.4 L1138.0 951.7 L1140.0 952.1 L1142.0 951.1 L1144.0 950.0 L1146.0 950.1 L1148.0 950.8 L1150.0 950.8 L1151.0 950.8 L1152.0 952.2 L1154.0 952.9 L1156.0 952.2 L1158.0 951.7 L1160.0 952.8 L1162.0 953.5 L1164.0 952.8 L1166.0 953.5 L1168.0 954.4 L1170.0 954.3 L1172.0 954.9 L1174.0 955.5 L1176.0 956.3 L1178.0 956.6 L1180.0 957.2 L1182.0 958.3 L1184.0 958.6 L1186.0 957.9 L1188.0 956.8 L1190.0 957.2 L1192.0 959.0 L1194.0 959.7 L1196.0 959.8 L1198.0 959.8 L1200.0 959.6 L1202.0 959.8 L1204.0 960.2 L1206.0 960.8 L1208.0 961.0 L1209.4 961.0 L1210.0 962.3 L1212.0 963.1 L1214.0 961.9 L1216.0 962.0 L1218.0 963.1 L1220.0 963.7 L1222.0 964.4 L1224.0 964.2 L1226.0 963.7 L1228.0 964.6 L1230.0 965.6 L1232.0 965.4 L1234.0 965.0 L1234.8 964.1 L1236.0 963.0 L1238.0 964.0 L1240.0 966.1 L1242.0 966.7 L1244.0 966.6 L1246.0 966.4 L1248.0 966.2 L1250.0 966.3 L1252.0 966.5 L1254.0 966.8 L1256.0 966.9 L1258.0 967.4 L1260.0 968.0 L1262.0 968.1 L1264.0 968.6 L1265.0 968.8 L1266.0 969.0 L1268.0 968.2 L1270.0 965.9 L1272.0 964.9 L1274.0 965.6 L1276.0 966.0 L1278.0 965.6 L1280.0 964.3 L1282.0 962.7 L1284.0 961.7 L1285.4 962.2 L1286.0 962.1 L1288.0 960.7 L1290.0 960.5 L1292.0 961.4 L1294.0 960.7 L1296.0 959.4 L1298.0 960.6 L1300.0 961.8 L1302.0 961.8 L1304.0 962.0 L1306.0 961.8 L1308.0 961.2 L1310.0 961.5 L1312.0 961.3 L1314.0 960.9 L1316.0 962.1 L1318.0 962.4 L1320.0 960.4 L1322.0 959.0 L1324.0 960.4 L1326.0 962.6 L1328.0 962.3 L1330.0 961.2 L1332.0 960.6 L1334.0 959.7 L1336.0 959.7 L1338.0 961.1 L1340.0 961.1 L1342.0 959.7 L1344.0 959.6 L1346.0 960.5 L1348.0 961.2 L1350.0 962.0 L1352.0 962.9 L1354.0 963.2 L1356.0 963.1 L1358.0 962.1 L1360.0 960.3 L1362.0 960.4 L1364.0 961.6 L1366.0 961.4 L1368.0 960.0 L1370.0 958.2 L1372.0 958.5 L1374.0 960.5 L1376.0 961.0 L1377.0 960.2 L1378.0 959.3 L1380.0 959.0 L1382.0 960.5 L1384.0 962.2 L1386.0 962.3 L1388.0 961.2 L1390.0 959.9 L1392.0 960.0 L1394.0 961.8 L1396.0 962.2 L1398.0 960.9 L1400.0 960.6 L1402.0 960.6 L1404.0 959.1 L1406.0 958.2 L1408.0 959.6 L1410.0 960.4 L1412.0 959.4 L1414.0 958.0 L1416.0 958.2 L1418.0 960.7 L1420.0 961.8 L1422.0 960.9 L1424.0 960.4 L1426.0 960.2 L1428.0 960.4 L1430.0 960.5 L1432.0 960.6 L1434.0 960.9 L1436.0 961.7 L1438.0 961.7 L1440.0 960.6 L1442.0 960.4 L1444.0 960.2 L1446.0 959.0 L1448.0 959.0 L1450.0 960.4 L1452.0 960.4 L1454.0 960.5 L1456.0 961.1 L1458.0 960.8 L1460.0 961.1 L1462.0 961.9 L1464.0 962.8 L1466.0 962.6 L1468.0 961.9 L1470.0 962.3 L1472.0 962.3 L1474.0 962.0 L1476.0 962.3 L1478.0 962.2 L1480.0 961.7 L1482.0 962.5 L1484.0 963.3 L1486.0 963.5 L1488.0 963.7 L1490.0 962.8 L1492.0 962.1 L1494.0 961.9 L1496.0 961.3 L1498.0 961.1 L1500.0 961.5 L1502.0 961.8 L1504.0 962.0 L1506.0 963.3 L1508.0 963.1 L1510.0 961.8 L1512.0 962.1 L1514.0 962.4 L1516.0 962.9 L1518.0 964.1 L1520.0 963.5 L1522.0 962.1 L1524.0 960.5 L1526.0 959.6 L1528.0 960.2 L1530.0 960.4 L1532.0 960.4 L1534.0 960.9 L1536.0 961.9 L1538.0 962.5 L1540.0 962.1 L1542.0 961.2 L1544.0 960.3 L1546.0 960.3 L1548.0 959.9 L1550.0 959.6 L1552.0 960.4 L1553.0 959.3 L1554.0 958.9 L1556.0 961.3 L1558.0 961.8 L1560.0 959.6 L1562.0 960.1 L1564.0 962.0 L1566.0 960.2 L1568.0 957.7 L1570.0 959.1 L1572.0 961.3 L1574.0 961.3 L1576.0 961.0 L1578.0 961.2 L1580.0 960.5 L1582.0 958.9 L1584.0 958.3 L1586.0 958.8 L1588.0 958.8 L1590.0 959.8 L1592.0 961.3 L1594.0 960.8 L1596.0 959.9 L1598.0 960.0 L1600.0 960.6 L1602.0 960.1 L1604.0 959.0 L1606.0 959.9 L1608.0 961.4 L1610.0 960.6 L1611.0 959.0 L1612.0 957.8 L1614.0 957.2 L1616.0 958.7 L1618.0 960.6 L1620.0 959.9 L1622.0 958.6 L1624.0 958.7 L1626.0 959.2 L1628.0 959.3 L1630.0 958.9 L1632.0 959.1 L1634.0 960.5 L1636.0 960.9 L1638.0 959.5 L1640.0 959.4 L1642.0 959.8 L1644.0 958.6 L1646.0 958.3 L1648.0 959.1 L1650.0 959.5 L1652.0 959.1 L1654.0 958.9 L1656.0 959.0 L1658.0 958.0 L1660.0 956.8 L1662.0 957.5 L1664.0 958.6 L1666.0 958.6 L1668.0 959.5 L1669.0 960.7 L1670.0 960.5 L1672.0 959.5 L1674.0 958.9 L1676.0 958.9 L1678.0 958.1 L1680.0 958.1 L1682.0 958.7 L1684.0 958.8 L1686.0 959.3 L1688.0 958.6 L1690.0 957.4 L1692.0 957.7 L1694.0 957.3 L1696.0 955.5 L1698.0 954.5 L1700.0 954.7 L1702.0 955.5 L1704.0 955.8 L1706.0 955.1 L1708.0 954.3 L1710.0 954.8 L1712.0 956.2 L1714.0 956.5 L1716.0 955.2 L1718.0 954.6 L1720.0 955.7 L1722.0 956.4 L1724.0 957.2 L1726.0 958.3 L1728.0 958.0 L1730.0 956.7 L1732.0 957.5 L1734.0 959.3 L1736.0 960.1 L1738.0 960.3 L1740.0 960.1 L1742.0 960.1 L1744.0 961.7 L1746.0 963.2 L1748.0 962.8 L1750.0 962.0 L1752.0 962.5 L1754.0 963.3 L1756.0 964.4 L1758.0 966.1 L1760.0 966.8 L1762.0 965.9 L1764.0 965.3 L1766.0 965.7 L1768.0 966.0 L1770.0 966.1 L1772.0 966.6 L1774.0 966.6 L1776.0 966.7 L1778.0 967.5 L1780.0 967.5 L1782.0 967.6 L1784.0 968.4 L1786.0 969.4 L1788.0 970.5 L1790.0 970.5 L1792.0 969.7 L1794.0 969.3 L1796.0 970.0 L1798.0 970.8 L1800.0 970.9 L1802.0 970.6 L1804.0 970.1 L1806.0 971.4 L1808.0 972.8 L1810.0 972.9 L1812.0 973.1 L1813.0 973.2 L1814.0 972.2 L1816.0 972.1 L1818.0 973.6 L1820.0 974.9 L1822.0 974.8 L1824.0 974.5 L1826.0 975.0 L1828.0 974.9 L1830.0 973.3 L1832.0 972.4 L1834.0 973.3 L1836.0 974.3 L1838.0 974.9 L1840.0 975.2 L1842.0 976.0 L1844.0 977.3 L1846.0 977.8 L1848.0 978.5 L1850.0 979.3 L1852.0 978.6 L1854.0 978.7 L1856.0 979.4 L1858.0 978.3 L1860.0 978.4 L1862.0 980.4 L1864.0 981.2 L1866.0 981.3 L1868.0 981.8 L1870.0 981.8 L1871.0 981.1 L1872.0 980.6 L1874.0 980.7 L1876.0 981.6 L1878.0 982.2 L1880.0 982.4 L1882.0 984.2 L1884.0 985.1 L1886.0 983.8 L1888.0 984.1 L1890.0 985.3 L1892.0 985.0 L1894.0 984.6 L1896.0 985.5 L1898.0 985.8 L1900.0 985.2 L1902.0 985.2 L1904.0 986.1 L1906.0 987.1 L1908.0 988.2 L1910.0 988.5 L1912.0 987.6 L1914.0 987.2 L1916.0 987.5 L1918.0 988.1 L1920.0 988.0 L1922.0 987.1 L1924.0 986.8 L1926.0 987.6 L1928.0 989.3 L1930.0 990.7 L1932.0 990.1 L1934.0 988.8 L1935.0 988.8" fill="none" stroke="#ff0000" stroke-width="10.5" stroke-linejoin="round" stroke-linecap="round"/>
<g fill="none" stroke="#1c1c1c" stroke-width="4.8" stroke-linecap="round" stroke-linejoin="miter">
<path d="M528 202 V353 M506.4 322.7 L528 353 L550 322.7"/>
<path d="M626.3 345 V499 M604.3 467.3 L626.3 499 L649.1 467.3"/>
<path d="M720.2 488.4 V801.6 M699 768 L720.2 801.6 L743 765"/>
<path d="M960.5 584.7 V894.6 M939.5 864 L960.5 894.6 L982.6 864"/>
<path d="M1711.7 836.8 V927.8 M1690.6 894.6 L1711.7 927.8 L1732.5 894.6"/>
</g>
<g fill="none" stroke="#ff1a1a" stroke-width="3.8" stroke-linecap="round" stroke-linejoin="miter">
<path d="M595.9 964.8 V1122.4 M576 1088 L595.9 1122.4 L618 1085.7"/>
<path d="M848 1045 L662.3 1187 M678.7 1149 L662.3 1187 L705.3 1180.7"/>
<path d="M1181.5 1058.6 L958.6 1217 M977.6 1180 L958.6 1217 L1000.4 1211.9"/>
</g>
<g fill="none" stroke="#000" stroke-width="8.5" stroke-linecap="round" stroke-linejoin="round">
<path d="M383.5 61.2 H1936 V1350.7 H383.5"/>
<path d="M410 61.2 V1375.5"/>
<path d="M383.5 317.6 H410 M383.5 577.6 H410 M383.5 833.7 H410 M383.5 1090.2 H410 M955 1350.7 V1375.5 M1499.3 1350.7 V1375.5"/>
</g>
<rect x="1459.6" y="177.3" width="108.8" height="29.7" fill="#0000cc"/>
<rect x="1459.6" y="258.6" width="113.9" height="29.8" fill="#0a0a0a"/>
<rect x="1459.6" y="341.7" width="113.9" height="30" fill="#ff00ff"/>
<rect x="1461.7" y="429.6" width="113.9" height="30.3" fill="#00cc00"/>
<rect x="1459.6" y="508" width="113.9" height="29.8" fill="#ff0000"/>
<text id="t2500" transform="translate(145.00,85.30) scale(1.0653,1)" font-size="78.17" fill="#000">2500</text>
<text id="t2000" transform="translate(145.00,342.25) scale(1.0645,1)" font-size="77.94" fill="#000">2000</text>
<text id="t1500" transform="translate(143.80,598.70) scale(1.0487,1)" font-size="79.89" fill="#000">1500</text>
<text id="t1000" transform="translate(145.00,857.60) scale(1.0863,1)" font-size="76.81" fill="#000">1000</text>
<text id="t500" transform="translate(186.40,1114.60) scale(1.1226,1)" font-size="76.81" fill="#000">500</text>
<text id="t0" transform="translate(283.00,1370.40) scale(1.0881,1)" font-size="77.81" fill="#000">0</text>
<text id="x100" transform="translate(341.40,1489.00) scale(1.1058,1)" font-size="77.81" fill="#000">100</text>
<text id="x600" transform="translate(885.80,1488.85) scale(1.1406,1)" font-size="76.23" fill="#000">600</text>
<text id="x1100" transform="translate(1408.60,1487.65) scale(1.1253,1)" font-size="76.86" fill="#000">1100</text>
<text id="F2g1" transform="translate(507.40,185.90) scale(1.0396,1)" font-size="58.14" fill="#000"><tspan x="-7.26" y="0">F2g </tspan><tspan x="109.16" y="0">(1) </tspan><tspan x="201.52" y="0">(218)</tspan></text>
<text id="Eg" transform="translate(637.10,299.40) scale(0.9974,1)" font-size="58.14" fill="#000"><tspan x="-6.92" y="0">Eg </tspan><tspan x="82.40" y="0">(285)</tspan></text>
<text id="F2g2" transform="translate(691.50,426.30) scale(1.0526,1)" font-size="58.14" fill="#000"><tspan x="-7.80" y="0">F2g </tspan><tspan x="108.32" y="0">(2) </tspan><tspan x="198.28" y="0">(400)</tspan></text>
<text id="F2g3" transform="translate(936.80,564.30) scale(1.0362,1)" font-size="58.14" fill="#000"><tspan x="-7.12" y="0">F2g </tspan><tspan x="108.87" y="0">(3) </tspan><tspan x="200.78" y="0">(616)</tspan></text>
<text id="A1g" transform="translate(1603.00,816.30) scale(1.0536,1)" font-size="58.14" fill="#000"><tspan x="-2.65" y="0">A1g </tspan><tspan x="118.24" y="0">(1285)</tspan></text>
<text id="Ag" transform="translate(548.10,1014.20) scale(1.0049,1)" font-size="58.14" fill="#ff0000"><tspan x="-1.78" y="0">Ag </tspan><tspan x="92.76" y="0">(285</tspan><tspan x="214.90" y="0" fill="#000">)</tspan></text>
<text id="Bg1" transform="translate(838.00,1042.20) scale(1.0014,1)" font-size="58.14" fill="#ff0000"><tspan x="-6.64" y="0">Bg </tspan><tspan x="83.53" y="0">(1) </tspan><tspan x="182.35" y="0">(285)</tspan></text>
<text id="Bg2" transform="translate(1194.20,1076.80) scale(1.0102,1)" font-size="58.14" fill="#ff0000"><tspan x="-6.93" y="0">Bg </tspan><tspan x="82.20" y="0">(2) </tspan><tspan x="177.30" y="0">(285)</tspan></text>
<text id="CuO" transform="translate(1596.00,214.60) scale(0.9772,1)" font-size="69.04" fill="#000">CuO</text>
<text id="Fe2O3" transform="translate(1600.60,298.10) scale(1.0023,1)" font-size="69.04" fill="#000">Fe<tspan dy="16" font-size="44">2</tspan><tspan dy="-16">O</tspan><tspan dy="16" font-size="44">3</tspan></text>
<text id="CuFe2" transform="translate(1604.50,376.50) scale(0.9737,1)" font-size="69.04" fill="#000">CuFe-2</text>
<text id="CuFe4" transform="translate(1604.50,461.10) scale(0.9680,1)" font-size="69.04" fill="#000">CuFe-4</text>
<text id="CuFe3" transform="translate(1604.50,546.10) scale(0.9703,1)" font-size="69.04" fill="#000">CuFe-3</text>
<text id="xlab" transform="translate(892.20,1606.80) scale(0.9838,1)" font-size="92.44" fill="#000"><tspan x="-5.28" y="0">Raman </tspan><tspan x="320.71" y="0">shift </tspan><tspan x="536.34" y="0">(cm</tspan><tspan x="701.32" y="-30.9" font-size="58.14">-1</tspan><tspan x="757.42" y="0">)</tspan></text>
<text id="ylab" transform="translate(105.60,1094.40) rotate(-90) scale(0.9526,1)" font-size="92.44" fill="#000"><tspan x="-7.00" y="0">Intensity </tspan><tspan x="400.80" y="0">(a.u)</tspan></text>
</svg>
</div>
</body></html>
